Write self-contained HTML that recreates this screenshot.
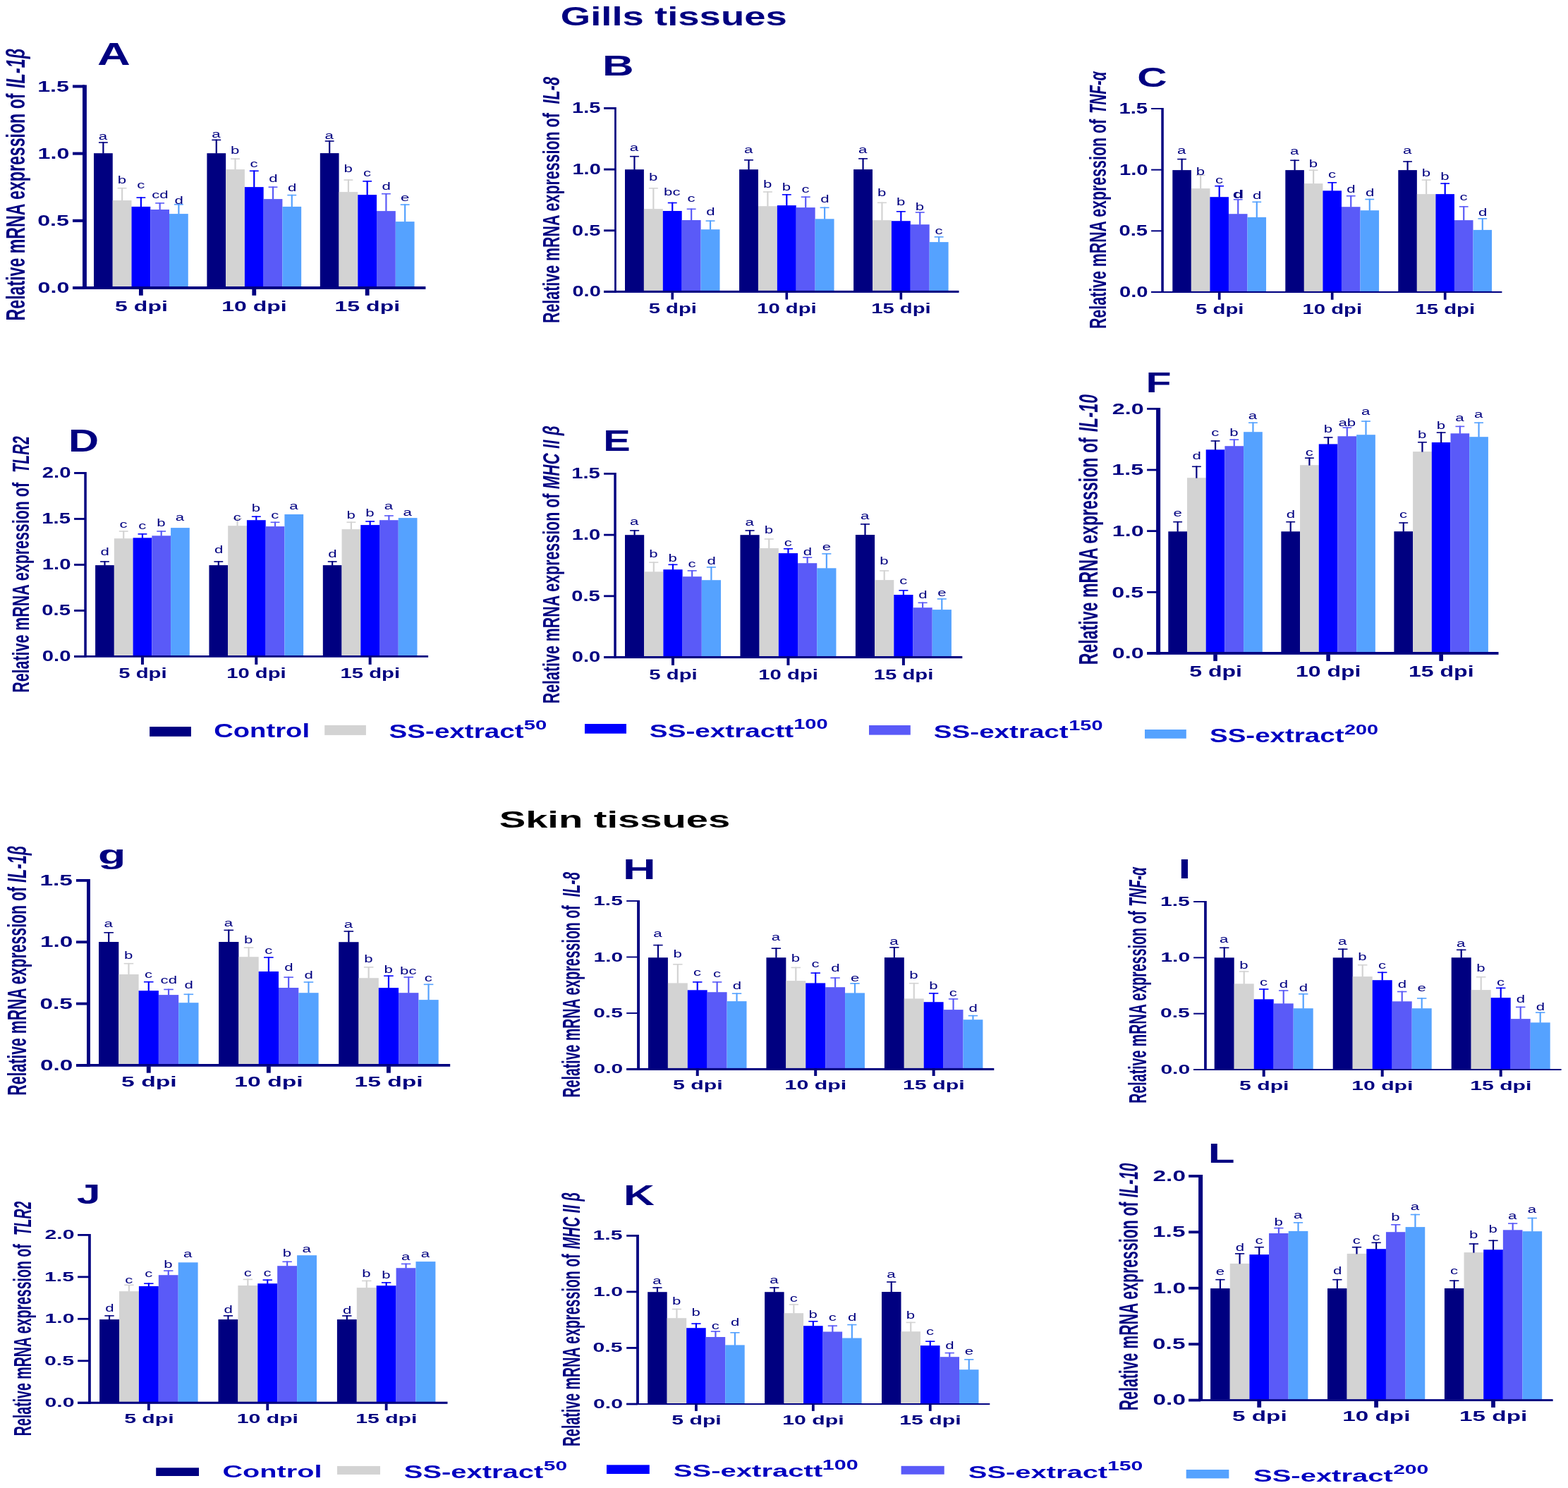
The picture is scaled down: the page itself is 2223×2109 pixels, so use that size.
<!DOCTYPE html>
<html><head><meta charset="utf-8"><title>Gills and skin tissues gene expression</title>
<style>html,body{margin:0;padding:0;background:#fff;}svg{display:block;}text{font-family:'Liberation Sans', Arial, sans-serif;}</style></head>
<body><svg xmlns="http://www.w3.org/2000/svg" width="2223" height="2109" viewBox="0 0 2223 2109">
<rect width="2223" height="2109" fill="#fff"/>
<g id="pA">
<rect x="133" y="217.2" width="26.75" height="189.3" fill="#000080"/>
<rect x="159.75" y="284" width="26.75" height="122.5" fill="#D3D3D3"/>
<rect x="186.5" y="292.9" width="26.75" height="113.6" fill="#0000FF"/>
<rect x="213.25" y="297" width="26.75" height="109.5" fill="#5A5AF8"/>
<rect x="240" y="303.1" width="26.75" height="103.4" fill="#55A2FF"/>
<rect x="293.4" y="217.2" width="26.75" height="189.3" fill="#000080"/>
<rect x="320.15" y="240.1" width="26.75" height="166.4" fill="#D3D3D3"/>
<rect x="346.9" y="265.1" width="26.75" height="141.4" fill="#0000FF"/>
<rect x="373.65" y="282.1" width="26.75" height="124.4" fill="#5A5AF8"/>
<rect x="400.4" y="292.9" width="26.75" height="113.6" fill="#55A2FF"/>
<rect x="453.8" y="217.1" width="26.75" height="189.4" fill="#000080"/>
<rect x="480.55" y="272.1" width="26.75" height="134.4" fill="#D3D3D3"/>
<rect x="507.3" y="276.1" width="26.75" height="130.4" fill="#0000FF"/>
<rect x="534.05" y="299.1" width="26.75" height="107.4" fill="#5A5AF8"/>
<rect x="560.8" y="314.1" width="26.75" height="92.4" fill="#55A2FF"/>
<rect x="145.28" y="201.2" width="2.2" height="16.5" fill="#000080"/>
<rect x="139.96" y="201.2" width="12.84" height="1.6" fill="#000080"/>
<rect x="172.03" y="265.9" width="2.2" height="18.6" fill="#D3D3D3"/>
<rect x="166.71" y="265.9" width="12.84" height="1.6" fill="#D3D3D3"/>
<rect x="198.78" y="279.3" width="2.2" height="14.1" fill="#0000FF"/>
<rect x="193.46" y="279.3" width="12.84" height="1.6" fill="#0000FF"/>
<rect x="225.53" y="287.1" width="2.2" height="10.4" fill="#5A5AF8"/>
<rect x="220.21" y="287.1" width="12.84" height="1.6" fill="#5A5AF8"/>
<rect x="252.28" y="289" width="2.2" height="14.6" fill="#55A2FF"/>
<rect x="246.96" y="289" width="12.84" height="1.6" fill="#55A2FF"/>
<rect x="305.67" y="197.6" width="2.2" height="20.1" fill="#000080"/>
<rect x="300.35" y="197.6" width="12.84" height="1.6" fill="#000080"/>
<rect x="332.42" y="224.4" width="2.2" height="16.2" fill="#D3D3D3"/>
<rect x="327.1" y="224.4" width="12.84" height="1.6" fill="#D3D3D3"/>
<rect x="359.17" y="241.5" width="2.2" height="24.1" fill="#0000FF"/>
<rect x="353.85" y="241.5" width="12.84" height="1.6" fill="#0000FF"/>
<rect x="385.92" y="264.4" width="2.2" height="18.2" fill="#5A5AF8"/>
<rect x="380.6" y="264.4" width="12.84" height="1.6" fill="#5A5AF8"/>
<rect x="412.67" y="275.8" width="2.2" height="17.6" fill="#55A2FF"/>
<rect x="407.35" y="275.8" width="12.84" height="1.6" fill="#55A2FF"/>
<rect x="466.07" y="199.2" width="2.2" height="18.4" fill="#000080"/>
<rect x="460.75" y="199.2" width="12.84" height="1.6" fill="#000080"/>
<rect x="492.82" y="254.3" width="2.2" height="18.3" fill="#D3D3D3"/>
<rect x="487.5" y="254.3" width="12.84" height="1.6" fill="#D3D3D3"/>
<rect x="519.57" y="256.1" width="2.2" height="20.5" fill="#0000FF"/>
<rect x="514.25" y="256.1" width="12.84" height="1.6" fill="#0000FF"/>
<rect x="546.32" y="273.9" width="2.2" height="25.7" fill="#5A5AF8"/>
<rect x="541" y="273.9" width="12.84" height="1.6" fill="#5A5AF8"/>
<rect x="573.07" y="289.3" width="2.2" height="25.3" fill="#55A2FF"/>
<rect x="567.75" y="289.3" width="12.84" height="1.6" fill="#55A2FF"/>
<rect x="117" y="120.4" width="5.9" height="289.6" fill="#000080"/>
<rect x="103" y="405.95" width="16.95" height="4.1" fill="#000080"/>
<rect x="103" y="310.77" width="16.95" height="4.1" fill="#000080"/>
<rect x="103" y="215.58" width="16.95" height="4.1" fill="#000080"/>
<rect x="103" y="120.4" width="16.95" height="4.1" fill="#000080"/>
<rect x="103" y="406" width="500.4" height="4" fill="#000080"/>
<rect x="196.97" y="409.5" width="5.8" height="9.3" fill="#000080"/>
<rect x="357.38" y="409.5" width="5.8" height="9.3" fill="#000080"/>
<rect x="517.77" y="409.5" width="5.8" height="9.3" fill="#000080"/>
<text transform="translate(53.61,415.37) scale(1.4118,1)" font-size="22.82" fill="#000080"><tspan style="font-weight:bold">0.0</tspan></text>
<text transform="translate(53.13,320.19) scale(1.4118,1)" font-size="22.82" fill="#000080"><tspan style="font-weight:bold">0.5</tspan></text>
<text transform="translate(53.61,225.01) scale(1.4118,1)" font-size="22.82" fill="#000080"><tspan style="font-weight:bold">1.0</tspan></text>
<text transform="translate(53.13,129.71) scale(1.4118,1)" font-size="22.82" fill="#000080"><tspan style="font-weight:bold">1.5</tspan></text>
<text transform="translate(163.11,440.68) scale(1.5205,1)" font-size="21.07" fill="#000080"><tspan style="font-weight:bold">5 dpi</tspan></text>
<text transform="translate(314.14,440.68) scale(1.5205,1)" font-size="21.07" fill="#000080"><tspan style="font-weight:bold">10 dpi</tspan></text>
<text transform="translate(474.54,440.68) scale(1.5205,1)" font-size="21.07" fill="#000080"><tspan style="font-weight:bold">15 dpi</tspan></text>
<text transform="translate(139.76,198) scale(1.5705,1)" font-size="14.15" fill="#000080"><tspan style="font-weight:normal">a</tspan></text>
<text transform="translate(166.68,259.5) scale(1.5705,1)" font-size="14.15" fill="#000080"><tspan style="font-weight:normal">b</tspan></text>
<text transform="translate(194.15,267.3) scale(1.5705,1)" font-size="14.15" fill="#000080"><tspan style="font-weight:normal">c</tspan></text>
<text transform="translate(215.18,280.8) scale(1.5705,1)" font-size="14.15" fill="#000080"><tspan style="font-weight:normal">cd</tspan></text>
<text transform="translate(247.49,288.7) scale(1.5705,1)" font-size="14.15" fill="#000080"><tspan style="font-weight:normal">d</tspan></text>
<text transform="translate(300.16,194.9) scale(1.5705,1)" font-size="14.15" fill="#000080"><tspan style="font-weight:normal">a</tspan></text>
<text transform="translate(327.08,217.6) scale(1.5705,1)" font-size="14.15" fill="#000080"><tspan style="font-weight:normal">b</tspan></text>
<text transform="translate(354.55,236.5) scale(1.5705,1)" font-size="14.15" fill="#000080"><tspan style="font-weight:normal">c</tspan></text>
<text transform="translate(381.14,258.4) scale(1.5705,1)" font-size="14.15" fill="#000080"><tspan style="font-weight:normal">d</tspan></text>
<text transform="translate(407.89,271.4) scale(1.5705,1)" font-size="14.15" fill="#000080"><tspan style="font-weight:normal">d</tspan></text>
<text transform="translate(460.56,196.6) scale(1.5705,1)" font-size="14.15" fill="#000080"><tspan style="font-weight:normal">a</tspan></text>
<text transform="translate(487.48,243.5) scale(1.5705,1)" font-size="14.15" fill="#000080"><tspan style="font-weight:normal">b</tspan></text>
<text transform="translate(514.95,250) scale(1.5705,1)" font-size="14.15" fill="#000080"><tspan style="font-weight:normal">c</tspan></text>
<text transform="translate(541.54,269) scale(1.5705,1)" font-size="14.15" fill="#000080"><tspan style="font-weight:normal">d</tspan></text>
<text transform="translate(568.06,285.2) scale(1.5705,1)" font-size="14.15" fill="#000080"><tspan style="font-weight:normal">e</tspan></text>
<text transform="translate(137.98,92) scale(1.4751,1)" font-size="43.91" fill="#000080"><tspan style="font-weight:bold;">A</tspan></text>
<text transform="translate(34.5,454.4) rotate(-90) scale(0.6389,1)" font-size="36.23" fill="#000080" style="font-weight:bold;white-space:pre">Relative mRNA expression of</text>
<text transform="translate(34.5,125.07) rotate(-90) scale(0.6507,1)" font-size="36.23" fill="#000080" style="font-weight:bold;font-style:italic;white-space:pre">IL-1β</text>
</g>
<g id="pB">
<rect x="886" y="240.2" width="26.9" height="172.2" fill="#000080"/>
<rect x="912.9" y="296.1" width="26.9" height="116.3" fill="#D3D3D3"/>
<rect x="939.8" y="299" width="26.9" height="113.4" fill="#0000FF"/>
<rect x="966.7" y="312" width="26.9" height="100.4" fill="#5A5AF8"/>
<rect x="993.6" y="325.2" width="26.9" height="87.2" fill="#55A2FF"/>
<rect x="1048.05" y="240.2" width="26.9" height="172.2" fill="#000080"/>
<rect x="1074.95" y="292.2" width="26.9" height="120.2" fill="#D3D3D3"/>
<rect x="1101.85" y="291.1" width="26.9" height="121.3" fill="#0000FF"/>
<rect x="1128.75" y="294.1" width="26.9" height="118.3" fill="#5A5AF8"/>
<rect x="1155.65" y="310.3" width="26.9" height="102.1" fill="#55A2FF"/>
<rect x="1210.1" y="240.1" width="26.9" height="172.3" fill="#000080"/>
<rect x="1237" y="312.1" width="26.9" height="100.3" fill="#D3D3D3"/>
<rect x="1263.9" y="313.2" width="26.9" height="99.2" fill="#0000FF"/>
<rect x="1290.8" y="318.2" width="26.9" height="94.2" fill="#5A5AF8"/>
<rect x="1317.7" y="343.1" width="26.9" height="69.3" fill="#55A2FF"/>
<rect x="898.35" y="220.9" width="2.2" height="19.8" fill="#000080"/>
<rect x="892.99" y="220.9" width="12.91" height="1.6" fill="#000080"/>
<rect x="925.25" y="266" width="2.2" height="30.6" fill="#D3D3D3"/>
<rect x="919.89" y="266" width="12.91" height="1.6" fill="#D3D3D3"/>
<rect x="952.15" y="286.7" width="2.2" height="12.8" fill="#0000FF"/>
<rect x="946.79" y="286.7" width="12.91" height="1.6" fill="#0000FF"/>
<rect x="979.05" y="295.5" width="2.2" height="17" fill="#5A5AF8"/>
<rect x="973.69" y="295.5" width="12.91" height="1.6" fill="#5A5AF8"/>
<rect x="1005.95" y="312.3" width="2.2" height="13.4" fill="#55A2FF"/>
<rect x="1000.59" y="312.3" width="12.91" height="1.6" fill="#55A2FF"/>
<rect x="1060.4" y="226" width="2.2" height="14.7" fill="#000080"/>
<rect x="1055.04" y="226" width="12.91" height="1.6" fill="#000080"/>
<rect x="1087.3" y="271.2" width="2.2" height="21.5" fill="#D3D3D3"/>
<rect x="1081.94" y="271.2" width="12.91" height="1.6" fill="#D3D3D3"/>
<rect x="1114.2" y="275.1" width="2.2" height="16.5" fill="#0000FF"/>
<rect x="1108.84" y="275.1" width="12.91" height="1.6" fill="#0000FF"/>
<rect x="1141.1" y="278.4" width="2.2" height="16.2" fill="#5A5AF8"/>
<rect x="1135.74" y="278.4" width="12.91" height="1.6" fill="#5A5AF8"/>
<rect x="1168" y="293.5" width="2.2" height="17.3" fill="#55A2FF"/>
<rect x="1162.64" y="293.5" width="12.91" height="1.6" fill="#55A2FF"/>
<rect x="1222.45" y="224.1" width="2.2" height="16.5" fill="#000080"/>
<rect x="1217.09" y="224.1" width="12.91" height="1.6" fill="#000080"/>
<rect x="1249.35" y="286.5" width="2.2" height="26.1" fill="#D3D3D3"/>
<rect x="1243.99" y="286.5" width="12.91" height="1.6" fill="#D3D3D3"/>
<rect x="1276.25" y="299" width="2.2" height="14.7" fill="#0000FF"/>
<rect x="1270.89" y="299" width="12.91" height="1.6" fill="#0000FF"/>
<rect x="1303.15" y="300.2" width="2.2" height="18.5" fill="#5A5AF8"/>
<rect x="1297.79" y="300.2" width="12.91" height="1.6" fill="#5A5AF8"/>
<rect x="1330.05" y="335" width="2.2" height="8.6" fill="#55A2FF"/>
<rect x="1324.69" y="335" width="12.91" height="1.6" fill="#55A2FF"/>
<rect x="871.1" y="152" width="2.7" height="262.9" fill="#000080"/>
<rect x="856.1" y="411.95" width="16.35" height="2.9" fill="#000080"/>
<rect x="856.1" y="325.3" width="16.35" height="2.9" fill="#000080"/>
<rect x="856.1" y="238.65" width="16.35" height="2.9" fill="#000080"/>
<rect x="856.1" y="152" width="16.35" height="2.9" fill="#000080"/>
<rect x="856.1" y="411.9" width="503.4" height="3" fill="#000080"/>
<rect x="951.45" y="414.4" width="3.6" height="10.1" fill="#000080"/>
<rect x="1113.5" y="414.4" width="3.6" height="10.1" fill="#000080"/>
<rect x="1275.55" y="414.4" width="3.6" height="10.1" fill="#000080"/>
<text transform="translate(811.44,420.33) scale(1.3461,1)" font-size="21.55" fill="#000080"><tspan style="font-weight:bold">0.0</tspan></text>
<text transform="translate(811,333.68) scale(1.3461,1)" font-size="21.55" fill="#000080"><tspan style="font-weight:bold">0.5</tspan></text>
<text transform="translate(811.44,247.03) scale(1.3461,1)" font-size="21.55" fill="#000080"><tspan style="font-weight:bold">1.0</tspan></text>
<text transform="translate(811,160.28) scale(1.3461,1)" font-size="21.55" fill="#000080"><tspan style="font-weight:bold">1.5</tspan></text>
<text transform="translate(919.67,444.49) scale(1.4250,1)" font-size="20.53" fill="#000080"><tspan style="font-weight:bold">5 dpi</tspan></text>
<text transform="translate(1073.16,444.49) scale(1.4250,1)" font-size="20.53" fill="#000080"><tspan style="font-weight:bold">10 dpi</tspan></text>
<text transform="translate(1235.21,444.49) scale(1.4250,1)" font-size="20.53" fill="#000080"><tspan style="font-weight:bold">15 dpi</tspan></text>
<text transform="translate(892.84,214.1) scale(1.5705,1)" font-size="14.15" fill="#000080"><tspan style="font-weight:normal">a</tspan></text>
<text transform="translate(919.91,256.2) scale(1.5705,1)" font-size="14.15" fill="#000080"><tspan style="font-weight:normal">b</tspan></text>
<text transform="translate(941.08,277.3) scale(1.5705,1)" font-size="14.15" fill="#000080"><tspan style="font-weight:normal">bc</tspan></text>
<text transform="translate(974.43,286.4) scale(1.5705,1)" font-size="14.15" fill="#000080"><tspan style="font-weight:normal">c</tspan></text>
<text transform="translate(1001.16,304.8) scale(1.5705,1)" font-size="14.15" fill="#000080"><tspan style="font-weight:normal">d</tspan></text>
<text transform="translate(1054.89,217) scale(1.5705,1)" font-size="14.15" fill="#000080"><tspan style="font-weight:normal">a</tspan></text>
<text transform="translate(1081.96,265.6) scale(1.5705,1)" font-size="14.15" fill="#000080"><tspan style="font-weight:normal">b</tspan></text>
<text transform="translate(1108.86,270.3) scale(1.5705,1)" font-size="14.15" fill="#000080"><tspan style="font-weight:normal">b</tspan></text>
<text transform="translate(1136.48,272.9) scale(1.5705,1)" font-size="14.15" fill="#000080"><tspan style="font-weight:normal">c</tspan></text>
<text transform="translate(1163.21,287) scale(1.5705,1)" font-size="14.15" fill="#000080"><tspan style="font-weight:normal">d</tspan></text>
<text transform="translate(1216.94,216.9) scale(1.5705,1)" font-size="14.15" fill="#000080"><tspan style="font-weight:normal">a</tspan></text>
<text transform="translate(1244.01,278.4) scale(1.5705,1)" font-size="14.15" fill="#000080"><tspan style="font-weight:normal">b</tspan></text>
<text transform="translate(1270.91,291.3) scale(1.5705,1)" font-size="14.15" fill="#000080"><tspan style="font-weight:normal">b</tspan></text>
<text transform="translate(1297.81,298.2) scale(1.5705,1)" font-size="14.15" fill="#000080"><tspan style="font-weight:normal">b</tspan></text>
<text transform="translate(1325.43,331.8) scale(1.5705,1)" font-size="14.15" fill="#000080"><tspan style="font-weight:normal">c</tspan></text>
<text transform="translate(853.98,106.7) scale(1.5176,1)" font-size="40.72" fill="#000080"><tspan style="font-weight:bold;">B</tspan></text>
<text transform="translate(793,457.99) rotate(-90) scale(0.6315,1)" font-size="33.91" fill="#000080" style="font-weight:bold;white-space:pre">Relative mRNA expression of</text>
<text transform="translate(793,147.54) rotate(-90) scale(0.6418,1)" font-size="33.91" fill="#000080" style="font-weight:bold;font-style:italic;white-space:pre">IL-8</text>
</g>
<g id="pC">
<rect x="1662.3" y="241.1" width="26.55" height="172.3" fill="#000080"/>
<rect x="1688.85" y="267.1" width="26.55" height="146.3" fill="#D3D3D3"/>
<rect x="1715.4" y="279.2" width="26.55" height="134.2" fill="#0000FF"/>
<rect x="1741.95" y="303.2" width="26.55" height="110.2" fill="#5A5AF8"/>
<rect x="1768.5" y="307.9" width="26.55" height="105.5" fill="#55A2FF"/>
<rect x="1822.3" y="241.1" width="26.55" height="172.3" fill="#000080"/>
<rect x="1848.85" y="260.1" width="26.55" height="153.3" fill="#D3D3D3"/>
<rect x="1875.4" y="270.3" width="26.55" height="143.1" fill="#0000FF"/>
<rect x="1901.95" y="293.2" width="26.55" height="120.2" fill="#5A5AF8"/>
<rect x="1928.5" y="298.2" width="26.55" height="115.2" fill="#55A2FF"/>
<rect x="1982.3" y="241.1" width="26.55" height="172.3" fill="#000080"/>
<rect x="2008.85" y="275.1" width="26.55" height="138.3" fill="#D3D3D3"/>
<rect x="2035.4" y="275.1" width="26.55" height="138.3" fill="#0000FF"/>
<rect x="2061.95" y="312.1" width="26.55" height="101.3" fill="#5A5AF8"/>
<rect x="2088.5" y="325.9" width="26.55" height="87.5" fill="#55A2FF"/>
<rect x="1674.48" y="224.8" width="2.2" height="16.8" fill="#000080"/>
<rect x="1669.2" y="224.8" width="12.74" height="1.6" fill="#000080"/>
<rect x="1701.03" y="247.5" width="2.2" height="20.1" fill="#D3D3D3"/>
<rect x="1695.75" y="247.5" width="12.74" height="1.6" fill="#D3D3D3"/>
<rect x="1727.58" y="262.9" width="2.2" height="16.8" fill="#0000FF"/>
<rect x="1722.3" y="262.9" width="12.74" height="1.6" fill="#0000FF"/>
<rect x="1754.13" y="282" width="2.2" height="21.7" fill="#5A5AF8"/>
<rect x="1748.85" y="282" width="12.74" height="1.6" fill="#5A5AF8"/>
<rect x="1780.68" y="285.5" width="2.2" height="22.9" fill="#55A2FF"/>
<rect x="1775.4" y="285.5" width="12.74" height="1.6" fill="#55A2FF"/>
<rect x="1834.48" y="226.5" width="2.2" height="15.1" fill="#000080"/>
<rect x="1829.2" y="226.5" width="12.74" height="1.6" fill="#000080"/>
<rect x="1861.03" y="240.5" width="2.2" height="20.1" fill="#D3D3D3"/>
<rect x="1855.75" y="240.5" width="12.74" height="1.6" fill="#D3D3D3"/>
<rect x="1887.58" y="258" width="2.2" height="12.8" fill="#0000FF"/>
<rect x="1882.3" y="258" width="12.74" height="1.6" fill="#0000FF"/>
<rect x="1914.13" y="276.9" width="2.2" height="16.8" fill="#5A5AF8"/>
<rect x="1908.85" y="276.9" width="12.74" height="1.6" fill="#5A5AF8"/>
<rect x="1940.68" y="281.7" width="2.2" height="17" fill="#55A2FF"/>
<rect x="1935.4" y="281.7" width="12.74" height="1.6" fill="#55A2FF"/>
<rect x="1994.48" y="228.2" width="2.2" height="13.4" fill="#000080"/>
<rect x="1989.2" y="228.2" width="12.74" height="1.6" fill="#000080"/>
<rect x="2021.03" y="254.3" width="2.2" height="21.3" fill="#D3D3D3"/>
<rect x="2015.75" y="254.3" width="12.74" height="1.6" fill="#D3D3D3"/>
<rect x="2047.57" y="259.3" width="2.2" height="16.3" fill="#0000FF"/>
<rect x="2042.3" y="259.3" width="12.74" height="1.6" fill="#0000FF"/>
<rect x="2074.12" y="292.1" width="2.2" height="20.5" fill="#5A5AF8"/>
<rect x="2068.85" y="292.1" width="12.74" height="1.6" fill="#5A5AF8"/>
<rect x="2100.68" y="309.1" width="2.2" height="17.3" fill="#55A2FF"/>
<rect x="2095.4" y="309.1" width="12.74" height="1.6" fill="#55A2FF"/>
<rect x="1646.3" y="153" width="3.5" height="262" fill="#000080"/>
<rect x="1632.1" y="412.95" width="15.95" height="2" fill="#000080"/>
<rect x="1632.1" y="326.3" width="15.95" height="2" fill="#000080"/>
<rect x="1632.1" y="239.65" width="15.95" height="2" fill="#000080"/>
<rect x="1632.1" y="153" width="15.95" height="2" fill="#000080"/>
<rect x="1632.1" y="412.9" width="497.3" height="2.1" fill="#000080"/>
<rect x="1726.83" y="414.5" width="3.7" height="10.3" fill="#000080"/>
<rect x="1886.83" y="414.5" width="3.7" height="10.3" fill="#000080"/>
<rect x="2046.83" y="414.5" width="3.7" height="10.3" fill="#000080"/>
<text transform="translate(1586.93,420.88) scale(1.3532,1)" font-size="21.55" fill="#000080"><tspan style="font-weight:bold">0.0</tspan></text>
<text transform="translate(1586.5,334.23) scale(1.3532,1)" font-size="21.55" fill="#000080"><tspan style="font-weight:bold">0.5</tspan></text>
<text transform="translate(1586.93,247.58) scale(1.3532,1)" font-size="21.55" fill="#000080"><tspan style="font-weight:bold">1.0</tspan></text>
<text transform="translate(1586.5,160.83) scale(1.3532,1)" font-size="21.55" fill="#000080"><tspan style="font-weight:bold">1.5</tspan></text>
<text transform="translate(1694.99,444.86) scale(1.4520,1)" font-size="20.21" fill="#000080"><tspan style="font-weight:bold">5 dpi</tspan></text>
<text transform="translate(1846.41,444.86) scale(1.4520,1)" font-size="20.21" fill="#000080"><tspan style="font-weight:bold">10 dpi</tspan></text>
<text transform="translate(2006.41,444.86) scale(1.4520,1)" font-size="20.21" fill="#000080"><tspan style="font-weight:bold">15 dpi</tspan></text>
<text transform="translate(1668.96,217.7) scale(1.5705,1)" font-size="14.15" fill="#000080"><tspan style="font-weight:normal">a</tspan></text>
<text transform="translate(1695.68,247.5) scale(1.5705,1)" font-size="14.15" fill="#000080"><tspan style="font-weight:normal">b</tspan></text>
<text transform="translate(1722.95,260.1) scale(1.5705,1)" font-size="14.15" fill="#000080"><tspan style="font-weight:normal">c</tspan></text>
<text transform="translate(1747.82,281.2) scale(1.4920,1)" font-size="16.98" fill="#000080"><tspan style="font-weight:bold">d</tspan></text>
<text transform="translate(1775.89,281.6) scale(1.5705,1)" font-size="14.15" fill="#000080"><tspan style="font-weight:normal">d</tspan></text>
<text transform="translate(1828.96,218.8) scale(1.5705,1)" font-size="14.15" fill="#000080"><tspan style="font-weight:normal">a</tspan></text>
<text transform="translate(1855.68,237) scale(1.5705,1)" font-size="14.15" fill="#000080"><tspan style="font-weight:normal">b</tspan></text>
<text transform="translate(1882.95,251.8) scale(1.5705,1)" font-size="14.15" fill="#000080"><tspan style="font-weight:normal">c</tspan></text>
<text transform="translate(1909.34,272.9) scale(1.5705,1)" font-size="14.15" fill="#000080"><tspan style="font-weight:normal">d</tspan></text>
<text transform="translate(1935.89,278.1) scale(1.5705,1)" font-size="14.15" fill="#000080"><tspan style="font-weight:normal">d</tspan></text>
<text transform="translate(1988.96,217.9) scale(1.5705,1)" font-size="14.15" fill="#000080"><tspan style="font-weight:normal">a</tspan></text>
<text transform="translate(2015.68,249.6) scale(1.5705,1)" font-size="14.15" fill="#000080"><tspan style="font-weight:normal">b</tspan></text>
<text transform="translate(2042.23,254.9) scale(1.5705,1)" font-size="14.15" fill="#000080"><tspan style="font-weight:normal">b</tspan></text>
<text transform="translate(2069.5,283.6) scale(1.5705,1)" font-size="14.15" fill="#000080"><tspan style="font-weight:normal">c</tspan></text>
<text transform="translate(2095.89,306.3) scale(1.5705,1)" font-size="14.15" fill="#000080"><tspan style="font-weight:normal">d</tspan></text>
<text transform="translate(1612.15,122.62) scale(1.5400,1)" font-size="38.17" fill="#000080"><tspan style="font-weight:bold;">C</tspan></text>
<text transform="translate(1568.1,466.09) rotate(-90) scale(0.6468,1)" font-size="33.04" fill="#000080" style="font-weight:bold;white-space:pre">Relative mRNA expression of</text>
<text transform="translate(1568.1,160.94) rotate(-90) scale(0.6211,1)" font-size="33.04" fill="#000080" style="font-weight:bold;font-style:italic;white-space:pre">TNF-α</text>
</g>
<g id="pD">
<rect x="135.1" y="801.1" width="26.74" height="128.4" fill="#000080"/>
<rect x="161.84" y="763.2" width="26.74" height="166.3" fill="#D3D3D3"/>
<rect x="188.58" y="762.3" width="26.74" height="167.2" fill="#0000FF"/>
<rect x="215.32" y="759.3" width="26.74" height="170.2" fill="#5A5AF8"/>
<rect x="242.06" y="748.1" width="26.74" height="181.4" fill="#55A2FF"/>
<rect x="296.45" y="801.1" width="26.74" height="128.4" fill="#000080"/>
<rect x="323.19" y="745.2" width="26.74" height="184.3" fill="#D3D3D3"/>
<rect x="349.93" y="737.2" width="26.74" height="192.3" fill="#0000FF"/>
<rect x="376.67" y="746.1" width="26.74" height="183.4" fill="#5A5AF8"/>
<rect x="403.41" y="729" width="26.74" height="200.5" fill="#55A2FF"/>
<rect x="457.8" y="801.1" width="26.74" height="128.4" fill="#000080"/>
<rect x="484.54" y="750.1" width="26.74" height="179.4" fill="#D3D3D3"/>
<rect x="511.28" y="744.1" width="26.74" height="185.4" fill="#0000FF"/>
<rect x="538.02" y="737.2" width="26.74" height="192.3" fill="#5A5AF8"/>
<rect x="564.76" y="734.1" width="26.74" height="195.4" fill="#55A2FF"/>
<rect x="147.37" y="795.2" width="2.2" height="6.4" fill="#000080"/>
<rect x="142.05" y="795.2" width="12.84" height="1.6" fill="#000080"/>
<rect x="174.11" y="752.2" width="2.2" height="11.5" fill="#D3D3D3"/>
<rect x="168.79" y="752.2" width="12.84" height="1.6" fill="#D3D3D3"/>
<rect x="200.85" y="756.1" width="2.2" height="6.7" fill="#0000FF"/>
<rect x="195.53" y="756.1" width="12.84" height="1.6" fill="#0000FF"/>
<rect x="227.59" y="752.2" width="2.2" height="7.6" fill="#5A5AF8"/>
<rect x="222.27" y="752.2" width="12.84" height="1.6" fill="#5A5AF8"/>
<rect x="308.72" y="795.2" width="2.2" height="6.4" fill="#000080"/>
<rect x="303.4" y="795.2" width="12.84" height="1.6" fill="#000080"/>
<rect x="335.46" y="734" width="2.2" height="11.7" fill="#D3D3D3"/>
<rect x="330.14" y="734" width="12.84" height="1.6" fill="#D3D3D3"/>
<rect x="362.2" y="731.4" width="2.2" height="6.3" fill="#0000FF"/>
<rect x="356.88" y="731.4" width="12.84" height="1.6" fill="#0000FF"/>
<rect x="388.94" y="739.5" width="2.2" height="7.1" fill="#5A5AF8"/>
<rect x="383.62" y="739.5" width="12.84" height="1.6" fill="#5A5AF8"/>
<rect x="470.07" y="795.2" width="2.2" height="6.4" fill="#000080"/>
<rect x="464.75" y="795.2" width="12.84" height="1.6" fill="#000080"/>
<rect x="496.81" y="739.4" width="2.2" height="11.2" fill="#D3D3D3"/>
<rect x="491.49" y="739.4" width="12.84" height="1.6" fill="#D3D3D3"/>
<rect x="523.55" y="738.2" width="2.2" height="6.4" fill="#0000FF"/>
<rect x="518.23" y="738.2" width="12.84" height="1.6" fill="#0000FF"/>
<rect x="550.29" y="730.2" width="2.2" height="7.5" fill="#5A5AF8"/>
<rect x="544.97" y="730.2" width="12.84" height="1.6" fill="#5A5AF8"/>
<rect x="119.3" y="669" width="3.5" height="262.75" fill="#000080"/>
<rect x="105.1" y="928.95" width="15.95" height="2.9" fill="#000080"/>
<rect x="105.1" y="863.96" width="15.95" height="2.9" fill="#000080"/>
<rect x="105.1" y="798.97" width="15.95" height="2.9" fill="#000080"/>
<rect x="105.1" y="733.99" width="15.95" height="2.9" fill="#000080"/>
<rect x="105.1" y="669" width="15.95" height="2.9" fill="#000080"/>
<rect x="105.1" y="929" width="502" height="2.75" fill="#000080"/>
<rect x="199.95" y="931.25" width="4" height="10.65" fill="#000080"/>
<rect x="361.3" y="931.25" width="4" height="10.65" fill="#000080"/>
<rect x="522.65" y="931.25" width="4" height="10.65" fill="#000080"/>
<text transform="translate(59.73,937.24) scale(1.3783,1)" font-size="21.27" fill="#000080"><tspan style="font-weight:bold">0.0</tspan></text>
<text transform="translate(59.29,872.25) scale(1.3783,1)" font-size="21.27" fill="#000080"><tspan style="font-weight:bold">0.5</tspan></text>
<text transform="translate(59.73,807.26) scale(1.3783,1)" font-size="21.27" fill="#000080"><tspan style="font-weight:bold">1.0</tspan></text>
<text transform="translate(59.29,742.17) scale(1.3783,1)" font-size="21.27" fill="#000080"><tspan style="font-weight:bold">1.5</tspan></text>
<text transform="translate(59.73,677.29) scale(1.3783,1)" font-size="21.27" fill="#000080"><tspan style="font-weight:bold">2.0</tspan></text>
<text transform="translate(168.37,961.4) scale(1.4631,1)" font-size="20.00" fill="#000080"><tspan style="font-weight:bold">5 dpi</tspan></text>
<text transform="translate(321.16,961.4) scale(1.4631,1)" font-size="20.00" fill="#000080"><tspan style="font-weight:bold">10 dpi</tspan></text>
<text transform="translate(482.51,961.4) scale(1.4631,1)" font-size="20.00" fill="#000080"><tspan style="font-weight:bold">15 dpi</tspan></text>
<text transform="translate(142.58,787.3) scale(1.5705,1)" font-size="14.15" fill="#000080"><tspan style="font-weight:normal">d</tspan></text>
<text transform="translate(169.49,747.8) scale(1.5705,1)" font-size="14.15" fill="#000080"><tspan style="font-weight:normal">c</tspan></text>
<text transform="translate(196.23,749.9) scale(1.5705,1)" font-size="14.15" fill="#000080"><tspan style="font-weight:normal">c</tspan></text>
<text transform="translate(222.25,745.8) scale(1.5705,1)" font-size="14.15" fill="#000080"><tspan style="font-weight:normal">b</tspan></text>
<text transform="translate(248.82,737.6) scale(1.5705,1)" font-size="14.15" fill="#000080"><tspan style="font-weight:normal">a</tspan></text>
<text transform="translate(303.93,784.2) scale(1.5705,1)" font-size="14.15" fill="#000080"><tspan style="font-weight:normal">d</tspan></text>
<text transform="translate(330.84,737.6) scale(1.5705,1)" font-size="14.15" fill="#000080"><tspan style="font-weight:normal">c</tspan></text>
<text transform="translate(356.86,725.4) scale(1.5705,1)" font-size="14.15" fill="#000080"><tspan style="font-weight:normal">b</tspan></text>
<text transform="translate(384.32,734.8) scale(1.5705,1)" font-size="14.15" fill="#000080"><tspan style="font-weight:normal">c</tspan></text>
<text transform="translate(410.17,722) scale(1.5705,1)" font-size="14.15" fill="#000080"><tspan style="font-weight:normal">a</tspan></text>
<text transform="translate(465.28,789.5) scale(1.5705,1)" font-size="14.15" fill="#000080"><tspan style="font-weight:normal">d</tspan></text>
<text transform="translate(491.47,735.3) scale(1.5705,1)" font-size="14.15" fill="#000080"><tspan style="font-weight:normal">b</tspan></text>
<text transform="translate(518.21,731.9) scale(1.5705,1)" font-size="14.15" fill="#000080"><tspan style="font-weight:normal">b</tspan></text>
<text transform="translate(544.78,721.7) scale(1.5705,1)" font-size="14.15" fill="#000080"><tspan style="font-weight:normal">a</tspan></text>
<text transform="translate(571.52,730.6) scale(1.5705,1)" font-size="14.15" fill="#000080"><tspan style="font-weight:normal">a</tspan></text>
<text transform="translate(97.12,639.8) scale(1.3725,1)" font-size="43.48" fill="#000080"><tspan style="font-weight:bold;">D</tspan></text>
<text transform="translate(40.9,981.79) rotate(-90) scale(0.6483,1)" font-size="33.04" fill="#000080" style="font-weight:bold;white-space:pre">Relative mRNA expression of</text>
<text transform="translate(40.9,670.05) rotate(-90) scale(0.6265,1)" font-size="33.04" fill="#000080" style="font-weight:bold;font-style:italic;white-space:pre">TLR2</text>
</g>
<g id="pE">
<rect x="886" y="758.2" width="27.2" height="172.3" fill="#000080"/>
<rect x="913.2" y="810.3" width="27.2" height="120.2" fill="#D3D3D3"/>
<rect x="940.4" y="807.2" width="27.2" height="123.3" fill="#0000FF"/>
<rect x="967.6" y="817.2" width="27.2" height="113.3" fill="#5A5AF8"/>
<rect x="994.8" y="822.2" width="27.2" height="108.3" fill="#55A2FF"/>
<rect x="1049.45" y="758.2" width="27.2" height="172.3" fill="#000080"/>
<rect x="1076.65" y="777" width="27.2" height="153.5" fill="#D3D3D3"/>
<rect x="1103.85" y="784.1" width="27.2" height="146.4" fill="#0000FF"/>
<rect x="1131.05" y="798.2" width="27.2" height="132.3" fill="#5A5AF8"/>
<rect x="1158.25" y="805.3" width="27.2" height="125.2" fill="#55A2FF"/>
<rect x="1212.9" y="758" width="27.2" height="172.5" fill="#000080"/>
<rect x="1240.1" y="822.1" width="27.2" height="108.4" fill="#D3D3D3"/>
<rect x="1267.3" y="843" width="27.2" height="87.5" fill="#0000FF"/>
<rect x="1294.5" y="861.2" width="27.2" height="69.3" fill="#5A5AF8"/>
<rect x="1321.7" y="864.1" width="27.2" height="66.4" fill="#55A2FF"/>
<rect x="898.5" y="751.2" width="2.2" height="7.5" fill="#000080"/>
<rect x="893.07" y="751.2" width="13.06" height="1.6" fill="#000080"/>
<rect x="925.7" y="796.3" width="2.2" height="14.5" fill="#D3D3D3"/>
<rect x="920.27" y="796.3" width="13.06" height="1.6" fill="#D3D3D3"/>
<rect x="952.9" y="799.5" width="2.2" height="8.2" fill="#0000FF"/>
<rect x="947.47" y="799.5" width="13.06" height="1.6" fill="#0000FF"/>
<rect x="980.1" y="808.1" width="2.2" height="9.6" fill="#5A5AF8"/>
<rect x="974.67" y="808.1" width="13.06" height="1.6" fill="#5A5AF8"/>
<rect x="1007.3" y="803.1" width="2.2" height="19.6" fill="#55A2FF"/>
<rect x="1001.87" y="803.1" width="13.06" height="1.6" fill="#55A2FF"/>
<rect x="1061.95" y="751.2" width="2.2" height="7.5" fill="#000080"/>
<rect x="1056.52" y="751.2" width="13.06" height="1.6" fill="#000080"/>
<rect x="1089.15" y="763.2" width="2.2" height="14.3" fill="#D3D3D3"/>
<rect x="1083.72" y="763.2" width="13.06" height="1.6" fill="#D3D3D3"/>
<rect x="1116.35" y="777" width="2.2" height="7.6" fill="#0000FF"/>
<rect x="1110.92" y="777" width="13.06" height="1.6" fill="#0000FF"/>
<rect x="1143.55" y="789.3" width="2.2" height="9.4" fill="#5A5AF8"/>
<rect x="1138.12" y="789.3" width="13.06" height="1.6" fill="#5A5AF8"/>
<rect x="1170.75" y="784.1" width="2.2" height="21.7" fill="#55A2FF"/>
<rect x="1165.32" y="784.1" width="13.06" height="1.6" fill="#55A2FF"/>
<rect x="1225.4" y="742.1" width="2.2" height="16.4" fill="#000080"/>
<rect x="1219.97" y="742.1" width="13.06" height="1.6" fill="#000080"/>
<rect x="1252.6" y="808.2" width="2.2" height="14.4" fill="#D3D3D3"/>
<rect x="1247.17" y="808.2" width="13.06" height="1.6" fill="#D3D3D3"/>
<rect x="1279.8" y="836" width="2.2" height="7.5" fill="#0000FF"/>
<rect x="1274.37" y="836" width="13.06" height="1.6" fill="#0000FF"/>
<rect x="1307" y="853.5" width="2.2" height="8.2" fill="#5A5AF8"/>
<rect x="1301.57" y="853.5" width="13.06" height="1.6" fill="#5A5AF8"/>
<rect x="1334.2" y="848.1" width="2.2" height="16.5" fill="#55A2FF"/>
<rect x="1328.77" y="848.1" width="13.06" height="1.6" fill="#55A2FF"/>
<rect x="870.3" y="670" width="3.5" height="263.1" fill="#000080"/>
<rect x="856.1" y="930.15" width="15.95" height="2.8" fill="#000080"/>
<rect x="856.1" y="843.43" width="15.95" height="2.8" fill="#000080"/>
<rect x="856.1" y="756.72" width="15.95" height="2.8" fill="#000080"/>
<rect x="856.1" y="670" width="15.95" height="2.8" fill="#000080"/>
<rect x="856.1" y="930" width="508.2" height="3.1" fill="#000080"/>
<rect x="952" y="932.6" width="4" height="10.3" fill="#000080"/>
<rect x="1115.45" y="932.6" width="4" height="10.3" fill="#000080"/>
<rect x="1278.9" y="932.6" width="4" height="10.3" fill="#000080"/>
<text transform="translate(810.73,938.41) scale(1.3666,1)" font-size="21.34" fill="#000080"><tspan style="font-weight:bold">0.0</tspan></text>
<text transform="translate(810.3,851.69) scale(1.3666,1)" font-size="21.34" fill="#000080"><tspan style="font-weight:bold">0.5</tspan></text>
<text transform="translate(810.73,764.98) scale(1.3666,1)" font-size="21.34" fill="#000080"><tspan style="font-weight:bold">1.0</tspan></text>
<text transform="translate(810.3,678.15) scale(1.3666,1)" font-size="21.34" fill="#000080"><tspan style="font-weight:bold">1.5</tspan></text>
<text transform="translate(920.37,962.68) scale(1.4575,1)" font-size="20.11" fill="#000080"><tspan style="font-weight:bold">5 dpi</tspan></text>
<text transform="translate(1075.25,962.68) scale(1.4575,1)" font-size="20.11" fill="#000080"><tspan style="font-weight:bold">10 dpi</tspan></text>
<text transform="translate(1238.7,962.68) scale(1.4575,1)" font-size="20.11" fill="#000080"><tspan style="font-weight:bold">15 dpi</tspan></text>
<text transform="translate(892.99,743.8) scale(1.5705,1)" font-size="14.15" fill="#000080"><tspan style="font-weight:normal">a</tspan></text>
<text transform="translate(920.36,790.1) scale(1.5705,1)" font-size="14.15" fill="#000080"><tspan style="font-weight:normal">b</tspan></text>
<text transform="translate(947.56,795.5) scale(1.5705,1)" font-size="14.15" fill="#000080"><tspan style="font-weight:normal">b</tspan></text>
<text transform="translate(975.48,803.7) scale(1.5705,1)" font-size="14.15" fill="#000080"><tspan style="font-weight:normal">c</tspan></text>
<text transform="translate(1002.51,800.1) scale(1.5705,1)" font-size="14.15" fill="#000080"><tspan style="font-weight:normal">d</tspan></text>
<text transform="translate(1056.44,745.2) scale(1.5705,1)" font-size="14.15" fill="#000080"><tspan style="font-weight:normal">a</tspan></text>
<text transform="translate(1083.81,756.3) scale(1.5705,1)" font-size="14.15" fill="#000080"><tspan style="font-weight:normal">b</tspan></text>
<text transform="translate(1111.73,773.6) scale(1.5705,1)" font-size="14.15" fill="#000080"><tspan style="font-weight:normal">c</tspan></text>
<text transform="translate(1138.76,786.5) scale(1.5705,1)" font-size="14.15" fill="#000080"><tspan style="font-weight:normal">d</tspan></text>
<text transform="translate(1165.74,780.2) scale(1.5705,1)" font-size="14.15" fill="#000080"><tspan style="font-weight:normal">e</tspan></text>
<text transform="translate(1219.89,736.2) scale(1.5705,1)" font-size="14.15" fill="#000080"><tspan style="font-weight:normal">a</tspan></text>
<text transform="translate(1247.26,799.7) scale(1.5705,1)" font-size="14.15" fill="#000080"><tspan style="font-weight:normal">b</tspan></text>
<text transform="translate(1275.18,828) scale(1.5705,1)" font-size="14.15" fill="#000080"><tspan style="font-weight:normal">c</tspan></text>
<text transform="translate(1302.21,847.7) scale(1.5705,1)" font-size="14.15" fill="#000080"><tspan style="font-weight:normal">d</tspan></text>
<text transform="translate(1329.19,845) scale(1.5705,1)" font-size="14.15" fill="#000080"><tspan style="font-weight:normal">e</tspan></text>
<text transform="translate(855.25,639) scale(1.3634,1)" font-size="42.32" fill="#000080"><tspan style="font-weight:bold;">E</tspan></text>
<text transform="translate(792.7,997.29) rotate(-90) scale(0.6479,1)" font-size="33.04" fill="#000080" style="font-weight:bold;white-space:pre">Relative mRNA expression of</text>
<text transform="translate(792.7,693.35) rotate(-90) scale(0.6802,1)" font-size="33.04" fill="#000080" style="font-weight:bold;font-style:italic;white-space:pre">MHC II β</text>
</g>
<g id="pF">
<rect x="1656.3" y="753.3" width="26.7" height="171.2" fill="#000080"/>
<rect x="1683" y="677.2" width="26.7" height="247.3" fill="#D3D3D3"/>
<rect x="1709.7" y="637.3" width="26.7" height="287.2" fill="#0000FF"/>
<rect x="1736.4" y="632.2" width="26.7" height="292.3" fill="#5A5AF8"/>
<rect x="1763.1" y="612.2" width="26.7" height="312.3" fill="#55A2FF"/>
<rect x="1816.35" y="753.3" width="26.7" height="171.2" fill="#000080"/>
<rect x="1843.05" y="659.2" width="26.7" height="265.3" fill="#D3D3D3"/>
<rect x="1869.75" y="629.4" width="26.7" height="295.1" fill="#0000FF"/>
<rect x="1896.45" y="618.3" width="26.7" height="306.2" fill="#5A5AF8"/>
<rect x="1923.15" y="616.2" width="26.7" height="308.3" fill="#55A2FF"/>
<rect x="1976.4" y="753.2" width="26.7" height="171.3" fill="#000080"/>
<rect x="2003.1" y="640.1" width="26.7" height="284.4" fill="#D3D3D3"/>
<rect x="2029.8" y="627" width="26.7" height="297.5" fill="#0000FF"/>
<rect x="2056.5" y="614.3" width="26.7" height="310.2" fill="#5A5AF8"/>
<rect x="2083.2" y="619.2" width="26.7" height="305.3" fill="#55A2FF"/>
<rect x="1668.55" y="738.9" width="2.2" height="14.9" fill="#000080"/>
<rect x="1663.24" y="738.9" width="12.82" height="1.6" fill="#000080"/>
<rect x="1695.25" y="660.5" width="2.2" height="17.2" fill="#000080"/>
<rect x="1689.94" y="660.5" width="12.82" height="1.6" fill="#000080"/>
<rect x="1721.95" y="624.2" width="2.2" height="13.6" fill="#000080"/>
<rect x="1716.64" y="624.2" width="12.82" height="1.6" fill="#000080"/>
<rect x="1748.65" y="622.4" width="2.2" height="10.3" fill="#5A5AF8"/>
<rect x="1743.34" y="622.4" width="12.82" height="1.6" fill="#5A5AF8"/>
<rect x="1775.35" y="598.4" width="2.2" height="14.3" fill="#55A2FF"/>
<rect x="1770.04" y="598.4" width="12.82" height="1.6" fill="#55A2FF"/>
<rect x="1828.6" y="738.9" width="2.2" height="14.9" fill="#000080"/>
<rect x="1823.29" y="738.9" width="12.82" height="1.6" fill="#000080"/>
<rect x="1855.3" y="648.4" width="2.2" height="11.3" fill="#000080"/>
<rect x="1849.99" y="648.4" width="12.82" height="1.6" fill="#000080"/>
<rect x="1882" y="619.2" width="2.2" height="10.7" fill="#000080"/>
<rect x="1876.69" y="619.2" width="12.82" height="1.6" fill="#000080"/>
<rect x="1908.7" y="605.3" width="2.2" height="13.5" fill="#5A5AF8"/>
<rect x="1903.39" y="605.3" width="12.82" height="1.6" fill="#5A5AF8"/>
<rect x="1935.4" y="596.3" width="2.2" height="20.4" fill="#55A2FF"/>
<rect x="1930.09" y="596.3" width="12.82" height="1.6" fill="#55A2FF"/>
<rect x="1988.65" y="740.2" width="2.2" height="13.5" fill="#000080"/>
<rect x="1983.34" y="740.2" width="12.82" height="1.6" fill="#000080"/>
<rect x="2015.35" y="626" width="2.2" height="14.6" fill="#000080"/>
<rect x="2010.04" y="626" width="12.82" height="1.6" fill="#000080"/>
<rect x="2042.05" y="612.3" width="2.2" height="15.2" fill="#000080"/>
<rect x="2036.74" y="612.3" width="12.82" height="1.6" fill="#000080"/>
<rect x="2068.75" y="603.6" width="2.2" height="11.2" fill="#5A5AF8"/>
<rect x="2063.44" y="603.6" width="12.82" height="1.6" fill="#5A5AF8"/>
<rect x="2095.45" y="598.4" width="2.2" height="21.3" fill="#55A2FF"/>
<rect x="2090.14" y="598.4" width="12.82" height="1.6" fill="#55A2FF"/>
<rect x="1639.1" y="578" width="6" height="349.8" fill="#000080"/>
<rect x="1626.1" y="924.5" width="16" height="2.8" fill="#000080"/>
<rect x="1626.1" y="837.88" width="16" height="2.8" fill="#000080"/>
<rect x="1626.1" y="751.25" width="16" height="2.8" fill="#000080"/>
<rect x="1626.1" y="664.62" width="16" height="2.8" fill="#000080"/>
<rect x="1626.1" y="578" width="16" height="2.8" fill="#000080"/>
<rect x="1626.1" y="924" width="498.4" height="3.8" fill="#000080"/>
<rect x="1720.25" y="927.3" width="5.6" height="9.6" fill="#000080"/>
<rect x="1880.3" y="927.3" width="5.6" height="9.6" fill="#000080"/>
<rect x="2040.35" y="927.3" width="5.6" height="9.6" fill="#000080"/>
<text transform="translate(1576.81,933.32) scale(1.4065,1)" font-size="22.96" fill="#000080"><tspan style="font-weight:bold">0.0</tspan></text>
<text transform="translate(1576.32,846.7) scale(1.4065,1)" font-size="22.96" fill="#000080"><tspan style="font-weight:bold">0.5</tspan></text>
<text transform="translate(1576.81,760.07) scale(1.4065,1)" font-size="22.96" fill="#000080"><tspan style="font-weight:bold">1.0</tspan></text>
<text transform="translate(1576.32,673.33) scale(1.4065,1)" font-size="22.96" fill="#000080"><tspan style="font-weight:bold">1.5</tspan></text>
<text transform="translate(1576.81,586.82) scale(1.4065,1)" font-size="22.96" fill="#000080"><tspan style="font-weight:bold">2.0</tspan></text>
<text transform="translate(1686.29,958.71) scale(1.4977,1)" font-size="21.39" fill="#000080"><tspan style="font-weight:bold">5 dpi</tspan></text>
<text transform="translate(1836.97,958.71) scale(1.4977,1)" font-size="21.39" fill="#000080"><tspan style="font-weight:bold">10 dpi</tspan></text>
<text transform="translate(1997.02,958.71) scale(1.4977,1)" font-size="21.39" fill="#000080"><tspan style="font-weight:bold">15 dpi</tspan></text>
<text transform="translate(1663.54,731.8) scale(1.5705,1)" font-size="14.15" fill="#000080"><tspan style="font-weight:normal">e</tspan></text>
<text transform="translate(1690.46,651.4) scale(1.5705,1)" font-size="14.15" fill="#000080"><tspan style="font-weight:normal">d</tspan></text>
<text transform="translate(1717.33,617.7) scale(1.5705,1)" font-size="14.15" fill="#000080"><tspan style="font-weight:normal">c</tspan></text>
<text transform="translate(1743.31,618.1) scale(1.5705,1)" font-size="14.15" fill="#000080"><tspan style="font-weight:normal">b</tspan></text>
<text transform="translate(1769.84,593.5) scale(1.5705,1)" font-size="14.15" fill="#000080"><tspan style="font-weight:normal">a</tspan></text>
<text transform="translate(1823.81,734.2) scale(1.5705,1)" font-size="14.15" fill="#000080"><tspan style="font-weight:normal">d</tspan></text>
<text transform="translate(1850.68,645.9) scale(1.5705,1)" font-size="14.15" fill="#000080"><tspan style="font-weight:normal">c</tspan></text>
<text transform="translate(1876.66,612.6) scale(1.5705,1)" font-size="14.15" fill="#000080"><tspan style="font-weight:normal">b</tspan></text>
<text transform="translate(1897.47,603.7) scale(1.5705,1)" font-size="14.15" fill="#000080"><tspan style="font-weight:normal">ab</tspan></text>
<text transform="translate(1929.89,587.9) scale(1.5705,1)" font-size="14.15" fill="#000080"><tspan style="font-weight:normal">a</tspan></text>
<text transform="translate(1984.03,733.8) scale(1.5705,1)" font-size="14.15" fill="#000080"><tspan style="font-weight:normal">c</tspan></text>
<text transform="translate(2010.01,621.4) scale(1.5705,1)" font-size="14.15" fill="#000080"><tspan style="font-weight:normal">b</tspan></text>
<text transform="translate(2036.71,607.6) scale(1.5705,1)" font-size="14.15" fill="#000080"><tspan style="font-weight:normal">b</tspan></text>
<text transform="translate(2063.24,597.2) scale(1.5705,1)" font-size="14.15" fill="#000080"><tspan style="font-weight:normal">a</tspan></text>
<text transform="translate(2089.94,591.8) scale(1.5705,1)" font-size="14.15" fill="#000080"><tspan style="font-weight:normal">a</tspan></text>
<text transform="translate(1624.56,556.4) scale(1.4339,1)" font-size="41.16" fill="#000080"><tspan style="font-weight:bold;">F</tspan></text>
<text transform="translate(1556.2,942.31) rotate(-90) scale(0.6365,1)" font-size="36.38" fill="#000080" style="font-weight:bold;white-space:pre">Relative mRNA expression of</text>
<text transform="translate(1556.2,612.36) rotate(-90) scale(0.6297,1)" font-size="36.38" fill="#000080" style="font-weight:bold;font-style:italic;white-space:pre">IL-10</text>
</g>
<g id="pg">
<rect x="140" y="1335" width="28.3" height="173.5" fill="#000080"/>
<rect x="168.3" y="1381" width="28.3" height="127.5" fill="#D3D3D3"/>
<rect x="196.6" y="1404.1" width="28.3" height="104.4" fill="#0000FF"/>
<rect x="224.9" y="1410.1" width="28.3" height="98.4" fill="#5A5AF8"/>
<rect x="253.2" y="1421.2" width="28.3" height="87.3" fill="#55A2FF"/>
<rect x="310.1" y="1335" width="28.3" height="173.5" fill="#000080"/>
<rect x="338.4" y="1356.2" width="28.3" height="152.3" fill="#D3D3D3"/>
<rect x="366.7" y="1376.9" width="28.3" height="131.6" fill="#0000FF"/>
<rect x="395" y="1400" width="28.3" height="108.5" fill="#5A5AF8"/>
<rect x="423.3" y="1407.2" width="28.3" height="101.3" fill="#55A2FF"/>
<rect x="480.2" y="1335.2" width="28.3" height="173.3" fill="#000080"/>
<rect x="508.5" y="1386.2" width="28.3" height="122.3" fill="#D3D3D3"/>
<rect x="536.8" y="1400.1" width="28.3" height="108.4" fill="#0000FF"/>
<rect x="565.1" y="1407.2" width="28.3" height="101.3" fill="#5A5AF8"/>
<rect x="593.4" y="1417.1" width="28.3" height="91.4" fill="#55A2FF"/>
<rect x="153.05" y="1321" width="2.2" height="14.5" fill="#000080"/>
<rect x="147.36" y="1321" width="13.58" height="1.6" fill="#000080"/>
<rect x="181.35" y="1364.9" width="2.2" height="16.6" fill="#D3D3D3"/>
<rect x="175.66" y="1364.9" width="13.58" height="1.6" fill="#D3D3D3"/>
<rect x="209.65" y="1390.9" width="2.2" height="13.7" fill="#0000FF"/>
<rect x="203.96" y="1390.9" width="13.58" height="1.6" fill="#0000FF"/>
<rect x="237.95" y="1401.6" width="2.2" height="9" fill="#5A5AF8"/>
<rect x="232.26" y="1401.6" width="13.58" height="1.6" fill="#5A5AF8"/>
<rect x="266.25" y="1408.5" width="2.2" height="13.2" fill="#55A2FF"/>
<rect x="260.56" y="1408.5" width="13.58" height="1.6" fill="#55A2FF"/>
<rect x="323.15" y="1317.6" width="2.2" height="17.9" fill="#000080"/>
<rect x="317.46" y="1317.6" width="13.58" height="1.6" fill="#000080"/>
<rect x="351.45" y="1342.4" width="2.2" height="14.3" fill="#D3D3D3"/>
<rect x="345.76" y="1342.4" width="13.58" height="1.6" fill="#D3D3D3"/>
<rect x="379.75" y="1356.2" width="2.2" height="21.2" fill="#0000FF"/>
<rect x="374.06" y="1356.2" width="13.58" height="1.6" fill="#0000FF"/>
<rect x="408.05" y="1384.3" width="2.2" height="16.2" fill="#5A5AF8"/>
<rect x="402.36" y="1384.3" width="13.58" height="1.6" fill="#5A5AF8"/>
<rect x="436.35" y="1391.2" width="2.2" height="16.5" fill="#55A2FF"/>
<rect x="430.66" y="1391.2" width="13.58" height="1.6" fill="#55A2FF"/>
<rect x="493.25" y="1319.2" width="2.2" height="16.5" fill="#000080"/>
<rect x="487.56" y="1319.2" width="13.58" height="1.6" fill="#000080"/>
<rect x="521.55" y="1370" width="2.2" height="16.7" fill="#D3D3D3"/>
<rect x="515.86" y="1370" width="13.58" height="1.6" fill="#D3D3D3"/>
<rect x="549.85" y="1382.4" width="2.2" height="18.2" fill="#0000FF"/>
<rect x="544.16" y="1382.4" width="13.58" height="1.6" fill="#0000FF"/>
<rect x="578.15" y="1384.2" width="2.2" height="23.5" fill="#5A5AF8"/>
<rect x="572.46" y="1384.2" width="13.58" height="1.6" fill="#5A5AF8"/>
<rect x="606.45" y="1394.5" width="2.2" height="23.1" fill="#55A2FF"/>
<rect x="600.76" y="1394.5" width="13.58" height="1.6" fill="#55A2FF"/>
<rect x="123" y="1246" width="4.9" height="265.75" fill="#000080"/>
<rect x="108" y="1508" width="17.45" height="3.8" fill="#000080"/>
<rect x="108" y="1420.67" width="17.45" height="3.8" fill="#000080"/>
<rect x="108" y="1333.33" width="17.45" height="3.8" fill="#000080"/>
<rect x="108" y="1246" width="17.45" height="3.8" fill="#000080"/>
<rect x="108" y="1508" width="530.2" height="3.75" fill="#000080"/>
<rect x="207.8" y="1511.25" width="5.9" height="9.45" fill="#000080"/>
<rect x="377.9" y="1511.25" width="5.9" height="9.45" fill="#000080"/>
<rect x="548" y="1511.25" width="5.9" height="9.45" fill="#000080"/>
<text transform="translate(56.96,1516.83) scale(1.5516,1)" font-size="21.55" fill="#000080"><tspan style="font-weight:bold">0.0</tspan></text>
<text transform="translate(56.46,1429.5) scale(1.5516,1)" font-size="21.55" fill="#000080"><tspan style="font-weight:bold">0.5</tspan></text>
<text transform="translate(56.96,1342.17) scale(1.5516,1)" font-size="21.55" fill="#000080"><tspan style="font-weight:bold">1.0</tspan></text>
<text transform="translate(56.46,1254.73) scale(1.5516,1)" font-size="21.55" fill="#000080"><tspan style="font-weight:bold">1.5</tspan></text>
<text transform="translate(172.09,1540.4) scale(1.6846,1)" font-size="20.00" fill="#000080"><tspan style="font-weight:bold">5 dpi</tspan></text>
<text transform="translate(332.33,1540.4) scale(1.6846,1)" font-size="20.00" fill="#000080"><tspan style="font-weight:bold">10 dpi</tspan></text>
<text transform="translate(502.43,1540.4) scale(1.6846,1)" font-size="20.00" fill="#000080"><tspan style="font-weight:bold">15 dpi</tspan></text>
<text transform="translate(147.54,1314) scale(1.5705,1)" font-size="14.15" fill="#000080"><tspan style="font-weight:normal">a</tspan></text>
<text transform="translate(176.01,1358.9) scale(1.5705,1)" font-size="14.15" fill="#000080"><tspan style="font-weight:normal">b</tspan></text>
<text transform="translate(205.03,1386.3) scale(1.5705,1)" font-size="14.15" fill="#000080"><tspan style="font-weight:normal">c</tspan></text>
<text transform="translate(227.61,1393.7) scale(1.5705,1)" font-size="14.15" fill="#000080"><tspan style="font-weight:normal">cd</tspan></text>
<text transform="translate(261.46,1400.6) scale(1.5705,1)" font-size="14.15" fill="#000080"><tspan style="font-weight:normal">d</tspan></text>
<text transform="translate(317.64,1312.7) scale(1.5705,1)" font-size="14.15" fill="#000080"><tspan style="font-weight:normal">a</tspan></text>
<text transform="translate(346.11,1337) scale(1.5705,1)" font-size="14.15" fill="#000080"><tspan style="font-weight:normal">b</tspan></text>
<text transform="translate(375.13,1352.3) scale(1.5705,1)" font-size="14.15" fill="#000080"><tspan style="font-weight:normal">c</tspan></text>
<text transform="translate(403.26,1376.4) scale(1.5705,1)" font-size="14.15" fill="#000080"><tspan style="font-weight:normal">d</tspan></text>
<text transform="translate(431.56,1386.6) scale(1.5705,1)" font-size="14.15" fill="#000080"><tspan style="font-weight:normal">d</tspan></text>
<text transform="translate(487.74,1314.8) scale(1.5705,1)" font-size="14.15" fill="#000080"><tspan style="font-weight:normal">a</tspan></text>
<text transform="translate(516.21,1363.9) scale(1.5705,1)" font-size="14.15" fill="#000080"><tspan style="font-weight:normal">b</tspan></text>
<text transform="translate(544.51,1378.9) scale(1.5705,1)" font-size="14.15" fill="#000080"><tspan style="font-weight:normal">b</tspan></text>
<text transform="translate(567.08,1380.5) scale(1.5705,1)" font-size="14.15" fill="#000080"><tspan style="font-weight:normal">bc</tspan></text>
<text transform="translate(601.83,1391) scale(1.5705,1)" font-size="14.15" fill="#000080"><tspan style="font-weight:normal">c</tspan></text>
<text transform="translate(138.93,1223.83) scale(1.7177,1)" font-size="37.47" fill="#000080"><tspan style="font-weight:bold;">g</tspan></text>
<text transform="translate(36.9,1552.68) rotate(-90) scale(0.5685,1)" font-size="37.39" fill="#000080" style="font-weight:bold;white-space:pre">Relative mRNA expression of</text>
<text transform="translate(36.9,1250.93) rotate(-90) scale(0.5815,1)" font-size="37.39" fill="#000080" style="font-weight:bold;font-style:italic;white-space:pre">IL-1β</text>
</g>
<g id="pH">
<rect x="919" y="1357.2" width="27.9" height="157.2" fill="#000080"/>
<rect x="946.9" y="1393.4" width="27.9" height="121" fill="#D3D3D3"/>
<rect x="974.8" y="1403.3" width="27.9" height="111.1" fill="#0000FF"/>
<rect x="1002.7" y="1406.2" width="27.9" height="108.2" fill="#5A5AF8"/>
<rect x="1030.6" y="1419.1" width="27.9" height="95.3" fill="#55A2FF"/>
<rect x="1086.45" y="1357.2" width="27.9" height="157.2" fill="#000080"/>
<rect x="1114.35" y="1390.1" width="27.9" height="124.3" fill="#D3D3D3"/>
<rect x="1142.25" y="1393.4" width="27.9" height="121" fill="#0000FF"/>
<rect x="1170.15" y="1399.2" width="27.9" height="115.2" fill="#5A5AF8"/>
<rect x="1198.05" y="1407.4" width="27.9" height="107" fill="#55A2FF"/>
<rect x="1253.9" y="1357.1" width="27.9" height="157.3" fill="#000080"/>
<rect x="1281.8" y="1415.4" width="27.9" height="99" fill="#D3D3D3"/>
<rect x="1309.7" y="1420.2" width="27.9" height="94.2" fill="#0000FF"/>
<rect x="1337.6" y="1431.1" width="27.9" height="83.3" fill="#5A5AF8"/>
<rect x="1365.5" y="1445.2" width="27.9" height="69.2" fill="#55A2FF"/>
<rect x="931.85" y="1338.8" width="2.2" height="18.9" fill="#000080"/>
<rect x="926.25" y="1338.8" width="13.39" height="1.6" fill="#000080"/>
<rect x="959.75" y="1366" width="2.2" height="27.9" fill="#D3D3D3"/>
<rect x="954.15" y="1366" width="13.39" height="1.6" fill="#D3D3D3"/>
<rect x="987.65" y="1391.1" width="2.2" height="12.7" fill="#0000FF"/>
<rect x="982.05" y="1391.1" width="13.39" height="1.6" fill="#0000FF"/>
<rect x="1015.55" y="1391.1" width="2.2" height="15.6" fill="#5A5AF8"/>
<rect x="1009.95" y="1391.1" width="13.39" height="1.6" fill="#5A5AF8"/>
<rect x="1043.45" y="1407.4" width="2.2" height="12.2" fill="#55A2FF"/>
<rect x="1037.85" y="1407.4" width="13.39" height="1.6" fill="#55A2FF"/>
<rect x="1099.3" y="1343.4" width="2.2" height="14.3" fill="#000080"/>
<rect x="1093.7" y="1343.4" width="13.39" height="1.6" fill="#000080"/>
<rect x="1127.2" y="1370.6" width="2.2" height="20" fill="#D3D3D3"/>
<rect x="1121.6" y="1370.6" width="13.39" height="1.6" fill="#D3D3D3"/>
<rect x="1155.1" y="1378.3" width="2.2" height="15.6" fill="#0000FF"/>
<rect x="1149.5" y="1378.3" width="13.39" height="1.6" fill="#0000FF"/>
<rect x="1183" y="1385.2" width="2.2" height="14.5" fill="#5A5AF8"/>
<rect x="1177.4" y="1385.2" width="13.39" height="1.6" fill="#5A5AF8"/>
<rect x="1210.9" y="1393.1" width="2.2" height="14.8" fill="#55A2FF"/>
<rect x="1205.3" y="1393.1" width="13.39" height="1.6" fill="#55A2FF"/>
<rect x="1266.75" y="1342" width="2.2" height="15.6" fill="#000080"/>
<rect x="1261.15" y="1342" width="13.39" height="1.6" fill="#000080"/>
<rect x="1294.65" y="1392.9" width="2.2" height="23" fill="#D3D3D3"/>
<rect x="1289.05" y="1392.9" width="13.39" height="1.6" fill="#D3D3D3"/>
<rect x="1322.55" y="1407.1" width="2.2" height="13.6" fill="#0000FF"/>
<rect x="1316.95" y="1407.1" width="13.39" height="1.6" fill="#0000FF"/>
<rect x="1350.45" y="1415.1" width="2.2" height="16.5" fill="#5A5AF8"/>
<rect x="1344.85" y="1415.1" width="13.39" height="1.6" fill="#5A5AF8"/>
<rect x="1378.35" y="1438.8" width="2.2" height="6.9" fill="#55A2FF"/>
<rect x="1372.75" y="1438.8" width="13.39" height="1.6" fill="#55A2FF"/>
<rect x="903.1" y="1276.05" width="3.9" height="240.95" fill="#000080"/>
<rect x="888.2" y="1514.5" width="16.85" height="1.9" fill="#000080"/>
<rect x="888.2" y="1435.02" width="16.85" height="1.9" fill="#000080"/>
<rect x="888.2" y="1355.53" width="16.85" height="1.9" fill="#000080"/>
<rect x="888.2" y="1276.05" width="16.85" height="1.9" fill="#000080"/>
<rect x="888.2" y="1513.9" width="521.1" height="3.1" fill="#000080"/>
<rect x="986.75" y="1516.5" width="4" height="8.5" fill="#000080"/>
<rect x="1154.2" y="1516.5" width="4" height="8.5" fill="#000080"/>
<rect x="1321.65" y="1516.5" width="4" height="8.5" fill="#000080"/>
<text transform="translate(841.6,1521.49) scale(1.5836,1)" font-size="18.94" fill="#000080"><tspan style="font-weight:bold">0.0</tspan></text>
<text transform="translate(841.15,1442) scale(1.5836,1)" font-size="18.94" fill="#000080"><tspan style="font-weight:bold">0.5</tspan></text>
<text transform="translate(841.6,1362.52) scale(1.5836,1)" font-size="18.94" fill="#000080"><tspan style="font-weight:bold">1.0</tspan></text>
<text transform="translate(841.15,1282.94) scale(1.5836,1)" font-size="18.94" fill="#000080"><tspan style="font-weight:bold">1.5</tspan></text>
<text transform="translate(953.94,1544.08) scale(1.6685,1)" font-size="18.18" fill="#000080"><tspan style="font-weight:bold">5 dpi</tspan></text>
<text transform="translate(1112.52,1544.08) scale(1.6685,1)" font-size="18.18" fill="#000080"><tspan style="font-weight:bold">10 dpi</tspan></text>
<text transform="translate(1279.97,1544.08) scale(1.6685,1)" font-size="18.18" fill="#000080"><tspan style="font-weight:bold">15 dpi</tspan></text>
<text transform="translate(926.34,1327.8) scale(1.5705,1)" font-size="14.15" fill="#000080"><tspan style="font-weight:normal">a</tspan></text>
<text transform="translate(954.41,1356.9) scale(1.5705,1)" font-size="14.15" fill="#000080"><tspan style="font-weight:normal">b</tspan></text>
<text transform="translate(983.03,1383.2) scale(1.5705,1)" font-size="14.15" fill="#000080"><tspan style="font-weight:normal">c</tspan></text>
<text transform="translate(1010.93,1384.9) scale(1.5705,1)" font-size="14.15" fill="#000080"><tspan style="font-weight:normal">c</tspan></text>
<text transform="translate(1038.66,1401.6) scale(1.5705,1)" font-size="14.15" fill="#000080"><tspan style="font-weight:normal">d</tspan></text>
<text transform="translate(1093.79,1332.8) scale(1.5705,1)" font-size="14.15" fill="#000080"><tspan style="font-weight:normal">a</tspan></text>
<text transform="translate(1121.86,1363.2) scale(1.5705,1)" font-size="14.15" fill="#000080"><tspan style="font-weight:normal">b</tspan></text>
<text transform="translate(1150.48,1370.9) scale(1.5705,1)" font-size="14.15" fill="#000080"><tspan style="font-weight:normal">c</tspan></text>
<text transform="translate(1178.21,1377) scale(1.5705,1)" font-size="14.15" fill="#000080"><tspan style="font-weight:normal">d</tspan></text>
<text transform="translate(1205.89,1391.4) scale(1.5705,1)" font-size="14.15" fill="#000080"><tspan style="font-weight:normal">e</tspan></text>
<text transform="translate(1261.24,1339) scale(1.5705,1)" font-size="14.15" fill="#000080"><tspan style="font-weight:normal">a</tspan></text>
<text transform="translate(1289.31,1386.8) scale(1.5705,1)" font-size="14.15" fill="#000080"><tspan style="font-weight:normal">b</tspan></text>
<text transform="translate(1317.21,1402) scale(1.5705,1)" font-size="14.15" fill="#000080"><tspan style="font-weight:normal">b</tspan></text>
<text transform="translate(1345.83,1412.1) scale(1.5705,1)" font-size="14.15" fill="#000080"><tspan style="font-weight:normal">c</tspan></text>
<text transform="translate(1373.56,1434) scale(1.5705,1)" font-size="14.15" fill="#000080"><tspan style="font-weight:normal">d</tspan></text>
<text transform="translate(883,1246) scale(1.6262,1)" font-size="39.71" fill="#000080"><tspan style="font-weight:bold;">H</tspan></text>
<text transform="translate(822,1555.57) rotate(-90) scale(0.5677,1)" font-size="34.49" fill="#000080" style="font-weight:bold;white-space:pre">Relative mRNA expression of</text>
<text transform="translate(822,1271.2) rotate(-90) scale(0.5732,1)" font-size="34.49" fill="#000080" style="font-weight:bold;font-style:italic;white-space:pre">IL-8</text>
</g>
<g id="pI">
<rect x="1721.7" y="1357.3" width="28" height="158.2" fill="#000080"/>
<rect x="1749.7" y="1394.3" width="28" height="121.2" fill="#D3D3D3"/>
<rect x="1777.7" y="1416.3" width="28" height="99.2" fill="#0000FF"/>
<rect x="1805.7" y="1422.3" width="28" height="93.2" fill="#5A5AF8"/>
<rect x="1833.7" y="1429.2" width="28" height="86.3" fill="#55A2FF"/>
<rect x="1889.7" y="1357.3" width="28" height="158.2" fill="#000080"/>
<rect x="1917.7" y="1384.1" width="28" height="131.4" fill="#D3D3D3"/>
<rect x="1945.7" y="1389.2" width="28" height="126.3" fill="#0000FF"/>
<rect x="1973.7" y="1419.3" width="28" height="96.2" fill="#5A5AF8"/>
<rect x="2001.7" y="1429.2" width="28" height="86.3" fill="#55A2FF"/>
<rect x="2057.7" y="1357.2" width="28" height="158.3" fill="#000080"/>
<rect x="2085.7" y="1403.1" width="28" height="112.4" fill="#D3D3D3"/>
<rect x="2113.7" y="1414.1" width="28" height="101.4" fill="#0000FF"/>
<rect x="2141.7" y="1444.1" width="28" height="71.4" fill="#5A5AF8"/>
<rect x="2169.7" y="1449.3" width="28" height="66.2" fill="#55A2FF"/>
<rect x="1734.6" y="1342.5" width="2.2" height="15.3" fill="#000080"/>
<rect x="1728.98" y="1342.5" width="13.44" height="1.6" fill="#000080"/>
<rect x="1762.6" y="1376.2" width="2.2" height="18.6" fill="#D3D3D3"/>
<rect x="1756.98" y="1376.2" width="13.44" height="1.6" fill="#D3D3D3"/>
<rect x="1790.6" y="1401.2" width="2.2" height="15.6" fill="#0000FF"/>
<rect x="1784.98" y="1401.2" width="13.44" height="1.6" fill="#0000FF"/>
<rect x="1818.6" y="1403.2" width="2.2" height="19.6" fill="#5A5AF8"/>
<rect x="1812.98" y="1403.2" width="13.44" height="1.6" fill="#5A5AF8"/>
<rect x="1846.6" y="1408" width="2.2" height="21.7" fill="#55A2FF"/>
<rect x="1840.98" y="1408" width="13.44" height="1.6" fill="#55A2FF"/>
<rect x="1902.6" y="1344.5" width="2.2" height="13.3" fill="#000080"/>
<rect x="1896.98" y="1344.5" width="13.44" height="1.6" fill="#000080"/>
<rect x="1930.6" y="1366.9" width="2.2" height="17.7" fill="#D3D3D3"/>
<rect x="1924.98" y="1366.9" width="13.44" height="1.6" fill="#D3D3D3"/>
<rect x="1958.6" y="1377.5" width="2.2" height="12.2" fill="#0000FF"/>
<rect x="1952.98" y="1377.5" width="13.44" height="1.6" fill="#0000FF"/>
<rect x="1986.6" y="1404.7" width="2.2" height="15.1" fill="#5A5AF8"/>
<rect x="1980.98" y="1404.7" width="13.44" height="1.6" fill="#5A5AF8"/>
<rect x="2014.6" y="1414.2" width="2.2" height="15.5" fill="#55A2FF"/>
<rect x="2008.98" y="1414.2" width="13.44" height="1.6" fill="#55A2FF"/>
<rect x="2070.6" y="1345.5" width="2.2" height="12.2" fill="#000080"/>
<rect x="2064.98" y="1345.5" width="13.44" height="1.6" fill="#000080"/>
<rect x="2098.6" y="1383.9" width="2.2" height="19.7" fill="#D3D3D3"/>
<rect x="2092.98" y="1383.9" width="13.44" height="1.6" fill="#D3D3D3"/>
<rect x="2126.6" y="1399.6" width="2.2" height="15" fill="#0000FF"/>
<rect x="2120.98" y="1399.6" width="13.44" height="1.6" fill="#0000FF"/>
<rect x="2154.6" y="1426.6" width="2.2" height="18" fill="#5A5AF8"/>
<rect x="2148.98" y="1426.6" width="13.44" height="1.6" fill="#5A5AF8"/>
<rect x="2182.6" y="1434.3" width="2.2" height="15.5" fill="#55A2FF"/>
<rect x="2176.98" y="1434.3" width="13.44" height="1.6" fill="#55A2FF"/>
<rect x="1707.1" y="1277" width="3.7" height="240" fill="#000080"/>
<rect x="1692.1" y="1515" width="16.85" height="2" fill="#000080"/>
<rect x="1692.1" y="1435.67" width="16.85" height="2" fill="#000080"/>
<rect x="1692.1" y="1356.33" width="16.85" height="2" fill="#000080"/>
<rect x="1692.1" y="1277" width="16.85" height="2" fill="#000080"/>
<rect x="1692.1" y="1515" width="521.5" height="2" fill="#000080"/>
<rect x="1789.7" y="1516.5" width="4" height="9.4" fill="#000080"/>
<rect x="1957.7" y="1516.5" width="4" height="9.4" fill="#000080"/>
<rect x="2125.7" y="1516.5" width="4" height="9.4" fill="#000080"/>
<text transform="translate(1645.4,1521.82) scale(1.6426,1)" font-size="18.31" fill="#000080"><tspan style="font-weight:bold">0.0</tspan></text>
<text transform="translate(1644.95,1442.48) scale(1.6426,1)" font-size="18.31" fill="#000080"><tspan style="font-weight:bold">0.5</tspan></text>
<text transform="translate(1645.4,1363.15) scale(1.6426,1)" font-size="18.31" fill="#000080"><tspan style="font-weight:bold">1.0</tspan></text>
<text transform="translate(1644.95,1283.73) scale(1.6426,1)" font-size="18.31" fill="#000080"><tspan style="font-weight:bold">1.5</tspan></text>
<text transform="translate(1757.04,1544.78) scale(1.6611,1)" font-size="18.18" fill="#000080"><tspan style="font-weight:bold">5 dpi</tspan></text>
<text transform="translate(1916.21,1544.78) scale(1.6611,1)" font-size="18.18" fill="#000080"><tspan style="font-weight:bold">10 dpi</tspan></text>
<text transform="translate(2084.21,1544.78) scale(1.6611,1)" font-size="18.18" fill="#000080"><tspan style="font-weight:bold">15 dpi</tspan></text>
<text transform="translate(1729.09,1335.9) scale(1.5705,1)" font-size="14.15" fill="#000080"><tspan style="font-weight:normal">a</tspan></text>
<text transform="translate(1757.26,1372.6) scale(1.5705,1)" font-size="14.15" fill="#000080"><tspan style="font-weight:normal">b</tspan></text>
<text transform="translate(1785.98,1397.3) scale(1.5705,1)" font-size="14.15" fill="#000080"><tspan style="font-weight:normal">c</tspan></text>
<text transform="translate(1813.81,1399.7) scale(1.5705,1)" font-size="14.15" fill="#000080"><tspan style="font-weight:normal">d</tspan></text>
<text transform="translate(1841.81,1405) scale(1.5705,1)" font-size="14.15" fill="#000080"><tspan style="font-weight:normal">d</tspan></text>
<text transform="translate(1897.09,1339.2) scale(1.5705,1)" font-size="14.15" fill="#000080"><tspan style="font-weight:normal">a</tspan></text>
<text transform="translate(1925.26,1360.6) scale(1.5705,1)" font-size="14.15" fill="#000080"><tspan style="font-weight:normal">b</tspan></text>
<text transform="translate(1953.98,1372.6) scale(1.5705,1)" font-size="14.15" fill="#000080"><tspan style="font-weight:normal">c</tspan></text>
<text transform="translate(1981.81,1399.7) scale(1.5705,1)" font-size="14.15" fill="#000080"><tspan style="font-weight:normal">d</tspan></text>
<text transform="translate(2009.59,1405.2) scale(1.5705,1)" font-size="14.15" fill="#000080"><tspan style="font-weight:normal">e</tspan></text>
<text transform="translate(2065.09,1341.9) scale(1.5705,1)" font-size="14.15" fill="#000080"><tspan style="font-weight:normal">a</tspan></text>
<text transform="translate(2093.26,1376.9) scale(1.5705,1)" font-size="14.15" fill="#000080"><tspan style="font-weight:normal">b</tspan></text>
<text transform="translate(2121.98,1396.9) scale(1.5705,1)" font-size="14.15" fill="#000080"><tspan style="font-weight:normal">c</tspan></text>
<text transform="translate(2149.81,1420.8) scale(1.5705,1)" font-size="14.15" fill="#000080"><tspan style="font-weight:normal">d</tspan></text>
<text transform="translate(2177.81,1431.7) scale(1.5705,1)" font-size="14.15" fill="#000080"><tspan style="font-weight:normal">d</tspan></text>
<text transform="translate(1670.53,1245.2) scale(1.6891,1)" font-size="37.97" fill="#000080"><tspan style="font-weight:bold;">I</tspan></text>
<text transform="translate(1625.3,1563.78) rotate(-90) scale(0.5687,1)" font-size="34.49" fill="#000080" style="font-weight:bold;white-space:pre">Relative mRNA expression of</text>
<text transform="translate(1625.3,1284.65) rotate(-90) scale(0.5575,1)" font-size="34.49" fill="#000080" style="font-weight:bold;font-style:italic;white-space:pre">TNF-α</text>
</g>
<g id="pJ">
<rect x="141.1" y="1870.1" width="27.9" height="117.1" fill="#000080"/>
<rect x="169" y="1830.2" width="27.9" height="157" fill="#D3D3D3"/>
<rect x="196.9" y="1823" width="27.9" height="164.2" fill="#0000FF"/>
<rect x="224.8" y="1807.2" width="27.9" height="180" fill="#5A5AF8"/>
<rect x="252.7" y="1789.3" width="27.9" height="197.9" fill="#55A2FF"/>
<rect x="309.5" y="1870.1" width="27.9" height="117.1" fill="#000080"/>
<rect x="337.4" y="1822" width="27.9" height="165.2" fill="#D3D3D3"/>
<rect x="365.3" y="1819.2" width="27.9" height="168" fill="#0000FF"/>
<rect x="393.2" y="1794.2" width="27.9" height="193" fill="#5A5AF8"/>
<rect x="421.1" y="1779.2" width="27.9" height="208" fill="#55A2FF"/>
<rect x="477.9" y="1870.1" width="27.9" height="117.1" fill="#000080"/>
<rect x="505.8" y="1825.1" width="27.9" height="162.1" fill="#D3D3D3"/>
<rect x="533.7" y="1822.2" width="27.9" height="165" fill="#0000FF"/>
<rect x="561.6" y="1797.2" width="27.9" height="190" fill="#5A5AF8"/>
<rect x="589.5" y="1788.1" width="27.9" height="199.1" fill="#55A2FF"/>
<rect x="153.95" y="1864.1" width="2.2" height="6.5" fill="#000080"/>
<rect x="148.35" y="1864.1" width="13.39" height="1.6" fill="#000080"/>
<rect x="181.85" y="1820.5" width="2.2" height="10.2" fill="#D3D3D3"/>
<rect x="176.25" y="1820.5" width="13.39" height="1.6" fill="#D3D3D3"/>
<rect x="209.75" y="1818.4" width="2.2" height="5.1" fill="#0000FF"/>
<rect x="204.15" y="1818.4" width="13.39" height="1.6" fill="#0000FF"/>
<rect x="237.65" y="1800.3" width="2.2" height="7.4" fill="#5A5AF8"/>
<rect x="232.05" y="1800.3" width="13.39" height="1.6" fill="#5A5AF8"/>
<rect x="322.35" y="1864.1" width="2.2" height="6.5" fill="#000080"/>
<rect x="316.75" y="1864.1" width="13.39" height="1.6" fill="#000080"/>
<rect x="350.25" y="1812.6" width="2.2" height="9.9" fill="#D3D3D3"/>
<rect x="344.65" y="1812.6" width="13.39" height="1.6" fill="#D3D3D3"/>
<rect x="378.15" y="1813.4" width="2.2" height="6.3" fill="#0000FF"/>
<rect x="372.55" y="1813.4" width="13.39" height="1.6" fill="#0000FF"/>
<rect x="406.05" y="1787.5" width="2.2" height="7.2" fill="#5A5AF8"/>
<rect x="400.45" y="1787.5" width="13.39" height="1.6" fill="#5A5AF8"/>
<rect x="490.75" y="1864.2" width="2.2" height="6.4" fill="#000080"/>
<rect x="485.15" y="1864.2" width="13.39" height="1.6" fill="#000080"/>
<rect x="518.65" y="1814.6" width="2.2" height="11" fill="#D3D3D3"/>
<rect x="513.05" y="1814.6" width="13.39" height="1.6" fill="#D3D3D3"/>
<rect x="546.55" y="1817.1" width="2.2" height="5.6" fill="#0000FF"/>
<rect x="540.95" y="1817.1" width="13.39" height="1.6" fill="#0000FF"/>
<rect x="574.45" y="1790.6" width="2.2" height="7.1" fill="#5A5AF8"/>
<rect x="568.85" y="1790.6" width="13.39" height="1.6" fill="#5A5AF8"/>
<rect x="125.1" y="1749" width="3.7" height="240.8" fill="#000080"/>
<rect x="110.1" y="1986.85" width="16.85" height="2.8" fill="#000080"/>
<rect x="110.1" y="1927.39" width="16.85" height="2.8" fill="#000080"/>
<rect x="110.1" y="1867.92" width="16.85" height="2.8" fill="#000080"/>
<rect x="110.1" y="1808.46" width="16.85" height="2.8" fill="#000080"/>
<rect x="110.1" y="1749" width="16.85" height="2.8" fill="#000080"/>
<rect x="110.1" y="1986.7" width="524.4" height="3.1" fill="#000080"/>
<rect x="208.95" y="1989.3" width="3.8" height="9.6" fill="#000080"/>
<rect x="377.35" y="1989.3" width="3.8" height="9.6" fill="#000080"/>
<rect x="545.75" y="1989.3" width="3.8" height="9.6" fill="#000080"/>
<text transform="translate(63.39,1994.26) scale(1.6057,1)" font-size="18.87" fill="#000080"><tspan style="font-weight:bold">0.0</tspan></text>
<text transform="translate(62.93,1934.8) scale(1.6057,1)" font-size="18.87" fill="#000080"><tspan style="font-weight:bold">0.5</tspan></text>
<text transform="translate(63.39,1875.34) scale(1.6057,1)" font-size="18.87" fill="#000080"><tspan style="font-weight:bold">1.0</tspan></text>
<text transform="translate(62.93,1815.78) scale(1.6057,1)" font-size="18.87" fill="#000080"><tspan style="font-weight:bold">1.5</tspan></text>
<text transform="translate(63.39,1756.41) scale(1.6057,1)" font-size="18.87" fill="#000080"><tspan style="font-weight:bold">2.0</tspan></text>
<text transform="translate(176.19,2017.13) scale(1.6808,1)" font-size="17.97" fill="#000080"><tspan style="font-weight:bold">5 dpi</tspan></text>
<text transform="translate(335.76,2017.13) scale(1.6808,1)" font-size="17.97" fill="#000080"><tspan style="font-weight:bold">10 dpi</tspan></text>
<text transform="translate(504.16,2017.13) scale(1.6808,1)" font-size="17.97" fill="#000080"><tspan style="font-weight:bold">15 dpi</tspan></text>
<text transform="translate(149.16,1858.6) scale(1.5705,1)" font-size="14.15" fill="#000080"><tspan style="font-weight:normal">d</tspan></text>
<text transform="translate(177.23,1818.7) scale(1.5705,1)" font-size="14.15" fill="#000080"><tspan style="font-weight:normal">c</tspan></text>
<text transform="translate(205.13,1810.1) scale(1.5705,1)" font-size="14.15" fill="#000080"><tspan style="font-weight:normal">c</tspan></text>
<text transform="translate(232.31,1796.5) scale(1.5705,1)" font-size="14.15" fill="#000080"><tspan style="font-weight:normal">b</tspan></text>
<text transform="translate(260.04,1782.2) scale(1.5705,1)" font-size="14.15" fill="#000080"><tspan style="font-weight:normal">a</tspan></text>
<text transform="translate(317.56,1861.1) scale(1.5705,1)" font-size="14.15" fill="#000080"><tspan style="font-weight:normal">d</tspan></text>
<text transform="translate(345.63,1809.3) scale(1.5705,1)" font-size="14.15" fill="#000080"><tspan style="font-weight:normal">c</tspan></text>
<text transform="translate(373.53,1809.3) scale(1.5705,1)" font-size="14.15" fill="#000080"><tspan style="font-weight:normal">c</tspan></text>
<text transform="translate(400.71,1780.5) scale(1.5705,1)" font-size="14.15" fill="#000080"><tspan style="font-weight:normal">b</tspan></text>
<text transform="translate(428.44,1775.1) scale(1.5705,1)" font-size="14.15" fill="#000080"><tspan style="font-weight:normal">a</tspan></text>
<text transform="translate(485.96,1861.6) scale(1.5705,1)" font-size="14.15" fill="#000080"><tspan style="font-weight:normal">d</tspan></text>
<text transform="translate(513.31,1809.5) scale(1.5705,1)" font-size="14.15" fill="#000080"><tspan style="font-weight:normal">b</tspan></text>
<text transform="translate(541.21,1811.8) scale(1.5705,1)" font-size="14.15" fill="#000080"><tspan style="font-weight:normal">b</tspan></text>
<text transform="translate(568.94,1785.7) scale(1.5705,1)" font-size="14.15" fill="#000080"><tspan style="font-weight:normal">a</tspan></text>
<text transform="translate(596.84,1781.7) scale(1.5705,1)" font-size="14.15" fill="#000080"><tspan style="font-weight:normal">a</tspan></text>
<text transform="translate(108.79,1706.42) scale(1.5837,1)" font-size="38.29" fill="#000080"><tspan style="font-weight:bold;">J</tspan></text>
<text transform="translate(43.9,2035.17) rotate(-90) scale(0.5579,1)" font-size="35.07" fill="#000080" style="font-weight:bold;white-space:pre">Relative mRNA expression of</text>
<text transform="translate(43.9,1751.05) rotate(-90) scale(0.5514,1)" font-size="35.07" fill="#000080" style="font-weight:bold;font-style:italic;white-space:pre">TLR2</text>
</g>
<g id="pK">
<rect x="918.2" y="1831.2" width="27.5" height="158.3" fill="#000080"/>
<rect x="945.7" y="1868.2" width="27.5" height="121.3" fill="#D3D3D3"/>
<rect x="973.2" y="1882.2" width="27.5" height="107.3" fill="#0000FF"/>
<rect x="1000.7" y="1895" width="27.5" height="94.5" fill="#5A5AF8"/>
<rect x="1028.2" y="1906.4" width="27.5" height="83.1" fill="#55A2FF"/>
<rect x="1084.1" y="1831.2" width="27.5" height="158.3" fill="#000080"/>
<rect x="1111.6" y="1861.2" width="27.5" height="128.3" fill="#D3D3D3"/>
<rect x="1139.1" y="1879.2" width="27.5" height="110.3" fill="#0000FF"/>
<rect x="1166.6" y="1887.5" width="27.5" height="102" fill="#5A5AF8"/>
<rect x="1194.1" y="1896.5" width="27.5" height="93" fill="#55A2FF"/>
<rect x="1250" y="1831" width="27.5" height="158.5" fill="#000080"/>
<rect x="1277.5" y="1887.2" width="27.5" height="102.3" fill="#D3D3D3"/>
<rect x="1305" y="1907.1" width="27.5" height="82.4" fill="#0000FF"/>
<rect x="1332.5" y="1923.2" width="27.5" height="66.3" fill="#5A5AF8"/>
<rect x="1360" y="1941.2" width="27.5" height="48.3" fill="#55A2FF"/>
<rect x="930.85" y="1824.3" width="2.2" height="7.4" fill="#000080"/>
<rect x="925.35" y="1824.3" width="13.2" height="1.6" fill="#000080"/>
<rect x="958.35" y="1854.7" width="2.2" height="14" fill="#D3D3D3"/>
<rect x="952.85" y="1854.7" width="13.2" height="1.6" fill="#D3D3D3"/>
<rect x="985.85" y="1875.3" width="2.2" height="7.4" fill="#0000FF"/>
<rect x="980.35" y="1875.3" width="13.2" height="1.6" fill="#0000FF"/>
<rect x="1013.35" y="1886.3" width="2.2" height="9.2" fill="#5A5AF8"/>
<rect x="1007.85" y="1886.3" width="13.2" height="1.6" fill="#5A5AF8"/>
<rect x="1040.85" y="1888" width="2.2" height="18.9" fill="#55A2FF"/>
<rect x="1035.35" y="1888" width="13.2" height="1.6" fill="#55A2FF"/>
<rect x="1096.75" y="1824.3" width="2.2" height="7.4" fill="#000080"/>
<rect x="1091.25" y="1824.3" width="13.2" height="1.6" fill="#000080"/>
<rect x="1124.25" y="1848.2" width="2.2" height="13.5" fill="#D3D3D3"/>
<rect x="1118.75" y="1848.2" width="13.2" height="1.6" fill="#D3D3D3"/>
<rect x="1151.75" y="1872" width="2.2" height="7.7" fill="#0000FF"/>
<rect x="1146.25" y="1872" width="13.2" height="1.6" fill="#0000FF"/>
<rect x="1179.25" y="1878.4" width="2.2" height="9.6" fill="#5A5AF8"/>
<rect x="1173.75" y="1878.4" width="13.2" height="1.6" fill="#5A5AF8"/>
<rect x="1206.75" y="1876.8" width="2.2" height="20.2" fill="#55A2FF"/>
<rect x="1201.25" y="1876.8" width="13.2" height="1.6" fill="#55A2FF"/>
<rect x="1262.65" y="1816.2" width="2.2" height="15.3" fill="#000080"/>
<rect x="1257.15" y="1816.2" width="13.2" height="1.6" fill="#000080"/>
<rect x="1290.15" y="1873.6" width="2.2" height="14.1" fill="#D3D3D3"/>
<rect x="1284.65" y="1873.6" width="13.2" height="1.6" fill="#D3D3D3"/>
<rect x="1317.65" y="1900.4" width="2.2" height="7.2" fill="#0000FF"/>
<rect x="1312.15" y="1900.4" width="13.2" height="1.6" fill="#0000FF"/>
<rect x="1345.15" y="1916.8" width="2.2" height="6.9" fill="#5A5AF8"/>
<rect x="1339.65" y="1916.8" width="13.2" height="1.6" fill="#5A5AF8"/>
<rect x="1372.65" y="1926.1" width="2.2" height="15.6" fill="#55A2FF"/>
<rect x="1367.15" y="1926.1" width="13.2" height="1.6" fill="#55A2FF"/>
<rect x="902.1" y="1750" width="3.8" height="241" fill="#000080"/>
<rect x="888.2" y="1988.6" width="15.8" height="2.8" fill="#000080"/>
<rect x="888.2" y="1909.07" width="15.8" height="2.8" fill="#000080"/>
<rect x="888.2" y="1829.53" width="15.8" height="2.8" fill="#000080"/>
<rect x="888.2" y="1750" width="15.8" height="2.8" fill="#000080"/>
<rect x="888.2" y="1989" width="515.1" height="2" fill="#000080"/>
<rect x="985.05" y="1990.5" width="3.8" height="9.4" fill="#000080"/>
<rect x="1150.95" y="1990.5" width="3.8" height="9.4" fill="#000080"/>
<rect x="1316.85" y="1990.5" width="3.8" height="9.4" fill="#000080"/>
<text transform="translate(840.89,1995.96) scale(1.6178,1)" font-size="18.73" fill="#000080"><tspan style="font-weight:bold">0.0</tspan></text>
<text transform="translate(840.43,1916.43) scale(1.6178,1)" font-size="18.73" fill="#000080"><tspan style="font-weight:bold">0.5</tspan></text>
<text transform="translate(840.89,1836.9) scale(1.6178,1)" font-size="18.73" fill="#000080"><tspan style="font-weight:bold">1.0</tspan></text>
<text transform="translate(840.43,1757.27) scale(1.6178,1)" font-size="18.73" fill="#000080"><tspan style="font-weight:bold">1.5</tspan></text>
<text transform="translate(952.24,2018.88) scale(1.6635,1)" font-size="18.18" fill="#000080"><tspan style="font-weight:bold">5 dpi</tspan></text>
<text transform="translate(1109.3,2018.88) scale(1.6635,1)" font-size="18.18" fill="#000080"><tspan style="font-weight:bold">10 dpi</tspan></text>
<text transform="translate(1275.2,2018.88) scale(1.6635,1)" font-size="18.18" fill="#000080"><tspan style="font-weight:bold">15 dpi</tspan></text>
<text transform="translate(925.34,1819.7) scale(1.5705,1)" font-size="14.15" fill="#000080"><tspan style="font-weight:normal">a</tspan></text>
<text transform="translate(953.01,1848.8) scale(1.5705,1)" font-size="14.15" fill="#000080"><tspan style="font-weight:normal">b</tspan></text>
<text transform="translate(980.51,1864.9) scale(1.5705,1)" font-size="14.15" fill="#000080"><tspan style="font-weight:normal">b</tspan></text>
<text transform="translate(1008.73,1883.5) scale(1.5705,1)" font-size="14.15" fill="#000080"><tspan style="font-weight:normal">c</tspan></text>
<text transform="translate(1036.06,1878.9) scale(1.5705,1)" font-size="14.15" fill="#000080"><tspan style="font-weight:normal">d</tspan></text>
<text transform="translate(1091.24,1818.9) scale(1.5705,1)" font-size="14.15" fill="#000080"><tspan style="font-weight:normal">a</tspan></text>
<text transform="translate(1119.63,1844.9) scale(1.5705,1)" font-size="14.15" fill="#000080"><tspan style="font-weight:normal">c</tspan></text>
<text transform="translate(1146.41,1867.7) scale(1.5705,1)" font-size="14.15" fill="#000080"><tspan style="font-weight:normal">b</tspan></text>
<text transform="translate(1174.63,1872.3) scale(1.5705,1)" font-size="14.15" fill="#000080"><tspan style="font-weight:normal">c</tspan></text>
<text transform="translate(1201.96,1872.3) scale(1.5705,1)" font-size="14.15" fill="#000080"><tspan style="font-weight:normal">d</tspan></text>
<text transform="translate(1257.14,1810.8) scale(1.5705,1)" font-size="14.15" fill="#000080"><tspan style="font-weight:normal">a</tspan></text>
<text transform="translate(1284.81,1868.8) scale(1.5705,1)" font-size="14.15" fill="#000080"><tspan style="font-weight:normal">b</tspan></text>
<text transform="translate(1313.03,1891.5) scale(1.5705,1)" font-size="14.15" fill="#000080"><tspan style="font-weight:normal">c</tspan></text>
<text transform="translate(1340.36,1911.7) scale(1.5705,1)" font-size="14.15" fill="#000080"><tspan style="font-weight:normal">d</tspan></text>
<text transform="translate(1367.64,1919.8) scale(1.5705,1)" font-size="14.15" fill="#000080"><tspan style="font-weight:normal">e</tspan></text>
<text transform="translate(883.94,1708) scale(1.5015,1)" font-size="40.58" fill="#000080"><tspan style="font-weight:bold;">K</tspan></text>
<text transform="translate(822,2050.08) rotate(-90) scale(0.5689,1)" font-size="34.49" fill="#000080" style="font-weight:bold;white-space:pre">Relative mRNA expression of</text>
<text transform="translate(822,1770.3) rotate(-90) scale(0.5806,1)" font-size="34.49" fill="#000080" style="font-weight:bold;font-style:italic;white-space:pre">MHC II β</text>
</g>
<g id="pL">
<rect x="1716.1" y="1826.1" width="27.65" height="157.5" fill="#000080"/>
<rect x="1743.75" y="1790.9" width="27.65" height="192.7" fill="#D3D3D3"/>
<rect x="1771.4" y="1778.1" width="27.65" height="205.5" fill="#0000FF"/>
<rect x="1799.05" y="1748" width="27.65" height="235.6" fill="#5A5AF8"/>
<rect x="1826.7" y="1744.9" width="27.65" height="238.7" fill="#55A2FF"/>
<rect x="1882" y="1826.1" width="27.65" height="157.5" fill="#000080"/>
<rect x="1909.65" y="1776.9" width="27.65" height="206.7" fill="#D3D3D3"/>
<rect x="1937.3" y="1770.2" width="27.65" height="213.4" fill="#0000FF"/>
<rect x="1964.95" y="1746.2" width="27.65" height="237.4" fill="#5A5AF8"/>
<rect x="1992.6" y="1739.1" width="27.65" height="244.5" fill="#55A2FF"/>
<rect x="2047.9" y="1826" width="27.65" height="157.6" fill="#000080"/>
<rect x="2075.55" y="1775.1" width="27.65" height="208.5" fill="#D3D3D3"/>
<rect x="2103.2" y="1771.2" width="27.65" height="212.4" fill="#0000FF"/>
<rect x="2130.85" y="1743.3" width="27.65" height="240.3" fill="#5A5AF8"/>
<rect x="2158.5" y="1745.2" width="27.65" height="238.4" fill="#55A2FF"/>
<rect x="1728.83" y="1812.9" width="2.2" height="13.7" fill="#000080"/>
<rect x="1723.29" y="1812.9" width="13.27" height="1.6" fill="#000080"/>
<rect x="1756.48" y="1776.1" width="2.2" height="15.3" fill="#000080"/>
<rect x="1750.94" y="1776.1" width="13.27" height="1.6" fill="#000080"/>
<rect x="1784.12" y="1766.9" width="2.2" height="11.7" fill="#000080"/>
<rect x="1778.59" y="1766.9" width="13.27" height="1.6" fill="#000080"/>
<rect x="1811.78" y="1739.8" width="2.2" height="8.7" fill="#5A5AF8"/>
<rect x="1806.24" y="1739.8" width="13.27" height="1.6" fill="#5A5AF8"/>
<rect x="1839.42" y="1732.1" width="2.2" height="13.3" fill="#55A2FF"/>
<rect x="1833.89" y="1732.1" width="13.27" height="1.6" fill="#55A2FF"/>
<rect x="1894.73" y="1812.9" width="2.2" height="13.7" fill="#000080"/>
<rect x="1889.19" y="1812.9" width="13.27" height="1.6" fill="#000080"/>
<rect x="1922.38" y="1766.9" width="2.2" height="10.5" fill="#000080"/>
<rect x="1916.84" y="1766.9" width="13.27" height="1.6" fill="#000080"/>
<rect x="1950.03" y="1760.5" width="2.2" height="10.2" fill="#000080"/>
<rect x="1944.49" y="1760.5" width="13.27" height="1.6" fill="#000080"/>
<rect x="1977.68" y="1735" width="2.2" height="11.7" fill="#5A5AF8"/>
<rect x="1972.14" y="1735" width="13.27" height="1.6" fill="#5A5AF8"/>
<rect x="2005.33" y="1720.7" width="2.2" height="18.9" fill="#55A2FF"/>
<rect x="1999.79" y="1720.7" width="13.27" height="1.6" fill="#55A2FF"/>
<rect x="2060.62" y="1814.4" width="2.2" height="12.1" fill="#000080"/>
<rect x="2055.09" y="1814.4" width="13.27" height="1.6" fill="#000080"/>
<rect x="2088.27" y="1762.2" width="2.2" height="13.4" fill="#000080"/>
<rect x="2082.74" y="1762.2" width="13.27" height="1.6" fill="#000080"/>
<rect x="2115.92" y="1757.5" width="2.2" height="14.2" fill="#000080"/>
<rect x="2110.39" y="1757.5" width="13.27" height="1.6" fill="#000080"/>
<rect x="2143.57" y="1733.3" width="2.2" height="10.5" fill="#5A5AF8"/>
<rect x="2138.04" y="1733.3" width="13.27" height="1.6" fill="#5A5AF8"/>
<rect x="2171.22" y="1725.7" width="2.2" height="20" fill="#55A2FF"/>
<rect x="2165.69" y="1725.7" width="13.27" height="1.6" fill="#55A2FF"/>
<rect x="1699.1" y="1665" width="6" height="321" fill="#000080"/>
<rect x="1685.1" y="1982.65" width="17" height="3.8" fill="#000080"/>
<rect x="1685.1" y="1903.24" width="17" height="3.8" fill="#000080"/>
<rect x="1685.1" y="1823.82" width="17" height="3.8" fill="#000080"/>
<rect x="1685.1" y="1744.41" width="17" height="3.8" fill="#000080"/>
<rect x="1685.1" y="1665" width="17" height="3.8" fill="#000080"/>
<rect x="1685.1" y="1983.1" width="516.5" height="2.9" fill="#000080"/>
<rect x="1782.32" y="1985.5" width="5.8" height="9.4" fill="#000080"/>
<rect x="1948.22" y="1985.5" width="5.8" height="9.4" fill="#000080"/>
<rect x="2114.12" y="1985.5" width="5.8" height="9.4" fill="#000080"/>
<text transform="translate(1634.57,1991.39) scale(1.5685,1)" font-size="21.27" fill="#000080"><tspan style="font-weight:bold">0.0</tspan></text>
<text transform="translate(1634.07,1911.97) scale(1.5685,1)" font-size="21.27" fill="#000080"><tspan style="font-weight:bold">0.5</tspan></text>
<text transform="translate(1634.57,1832.56) scale(1.5685,1)" font-size="21.27" fill="#000080"><tspan style="font-weight:bold">1.0</tspan></text>
<text transform="translate(1634.07,1753.04) scale(1.5685,1)" font-size="21.27" fill="#000080"><tspan style="font-weight:bold">1.5</tspan></text>
<text transform="translate(1634.57,1673.74) scale(1.5685,1)" font-size="21.27" fill="#000080"><tspan style="font-weight:bold">2.0</tspan></text>
<text transform="translate(1747.03,2014.41) scale(1.7102,1)" font-size="19.47" fill="#000080"><tspan style="font-weight:bold">5 dpi</tspan></text>
<text transform="translate(1903.19,2014.41) scale(1.7102,1)" font-size="19.47" fill="#000080"><tspan style="font-weight:bold">10 dpi</tspan></text>
<text transform="translate(2069.09,2014.41) scale(1.7102,1)" font-size="19.47" fill="#000080"><tspan style="font-weight:bold">15 dpi</tspan></text>
<text transform="translate(1723.81,1806.5) scale(1.5705,1)" font-size="14.15" fill="#000080"><tspan style="font-weight:normal">e</tspan></text>
<text transform="translate(1751.69,1773.2) scale(1.5705,1)" font-size="14.15" fill="#000080"><tspan style="font-weight:normal">d</tspan></text>
<text transform="translate(1779.5,1762.5) scale(1.5705,1)" font-size="14.15" fill="#000080"><tspan style="font-weight:normal">c</tspan></text>
<text transform="translate(1806.43,1736.5) scale(1.5705,1)" font-size="14.15" fill="#000080"><tspan style="font-weight:normal">b</tspan></text>
<text transform="translate(1833.91,1726.8) scale(1.5705,1)" font-size="14.15" fill="#000080"><tspan style="font-weight:normal">a</tspan></text>
<text transform="translate(1889.94,1806) scale(1.5705,1)" font-size="14.15" fill="#000080"><tspan style="font-weight:normal">d</tspan></text>
<text transform="translate(1917.75,1762.5) scale(1.5705,1)" font-size="14.15" fill="#000080"><tspan style="font-weight:normal">c</tspan></text>
<text transform="translate(1945.4,1758.4) scale(1.5705,1)" font-size="14.15" fill="#000080"><tspan style="font-weight:normal">c</tspan></text>
<text transform="translate(1972.33,1730.4) scale(1.5705,1)" font-size="14.15" fill="#000080"><tspan style="font-weight:normal">b</tspan></text>
<text transform="translate(1999.81,1714.5) scale(1.5705,1)" font-size="14.15" fill="#000080"><tspan style="font-weight:normal">a</tspan></text>
<text transform="translate(2056,1806) scale(1.5705,1)" font-size="14.15" fill="#000080"><tspan style="font-weight:normal">c</tspan></text>
<text transform="translate(2082.93,1755) scale(1.5705,1)" font-size="14.15" fill="#000080"><tspan style="font-weight:normal">b</tspan></text>
<text transform="translate(2110.58,1746.8) scale(1.5705,1)" font-size="14.15" fill="#000080"><tspan style="font-weight:normal">b</tspan></text>
<text transform="translate(2138.06,1727.9) scale(1.5705,1)" font-size="14.15" fill="#000080"><tspan style="font-weight:normal">a</tspan></text>
<text transform="translate(2165.71,1719.4) scale(1.5705,1)" font-size="14.15" fill="#000080"><tspan style="font-weight:normal">a</tspan></text>
<text transform="translate(1712.77,1648) scale(1.5656,1)" font-size="39.57" fill="#000080"><tspan style="font-weight:bold;">L</tspan></text>
<text transform="translate(1613,1999.18) rotate(-90) scale(0.5665,1)" font-size="37.54" fill="#000080" style="font-weight:bold;white-space:pre">Relative mRNA expression of</text>
<text transform="translate(1613,1697.32) rotate(-90) scale(0.5571,1)" font-size="37.54" fill="#000080" style="font-weight:bold;font-style:italic;white-space:pre">IL-10</text>
</g>
<text transform="translate(794.82,35.93) scale(1.4889,1)" font-size="36.60" fill="#000080"><tspan style="font-weight:bold;">Gills tissues</tspan></text>
<text transform="translate(707.72,1172.66) scale(1.6503,1)" font-size="34.01" fill="#000000"><tspan style="font-weight:bold;">Skin tissues</tspan></text>
<rect x="212.1" y="1030" width="58.8" height="13.8" fill="#000080"/>
<rect x="460.2" y="1027.9" width="58.7" height="14" fill="#D3D3D3"/>
<rect x="829" y="1026" width="59" height="13.7" fill="#0000FF"/>
<rect x="1232" y="1028" width="58.8" height="13.6" fill="#5A5AF8"/>
<rect x="1623" y="1034" width="58.8" height="12.7" fill="#55A2FF"/>
<text transform="translate(303.17,1045.43) scale(1.4191,1)" font-size="26.94" fill="#0000C0"><tspan style="font-weight:bold;">Control</tspan></text>
<text transform="translate(551.54,1046.13) scale(1.4361,1)" font-size="26.90" fill="#0000C0"><tspan style="font-weight:bold;">SS-extract</tspan></text>
<text transform="translate(742.72,1034.41) scale(1.5604,1)" font-size="18.73" fill="#0000C0"><tspan style="font-weight:bold;">50</tspan></text>
<text transform="translate(920.84,1044.54) scale(1.4773,1)" font-size="26.20" fill="#0000C0"><tspan style="font-weight:bold;">SS-extractt</tspan></text>
<text transform="translate(1125.16,1032.9) scale(1.4640,1)" font-size="19.86" fill="#0000C0"><tspan style="font-weight:bold;">100</tspan></text>
<text transform="translate(1323.84,1046.04) scale(1.4575,1)" font-size="26.48" fill="#0000C0"><tspan style="font-weight:bold;">SS-extract</tspan></text>
<text transform="translate(1515.27,1034.7) scale(1.4647,1)" font-size="19.72" fill="#0000C0"><tspan style="font-weight:bold;">150</tspan></text>
<text transform="translate(1714.94,1051.93) scale(1.4331,1)" font-size="26.90" fill="#0000C0"><tspan style="font-weight:bold;">SS-extract</tspan></text>
<text transform="translate(1905.99,1040.5) scale(1.4608,1)" font-size="19.72" fill="#0000C0"><tspan style="font-weight:bold;">200</tspan></text>
<rect x="221.2" y="2080.3" width="60.8" height="11.7" fill="#000080"/>
<rect x="478" y="2077.9" width="61" height="12" fill="#D3D3D3"/>
<rect x="860" y="2076.3" width="60.8" height="12.7" fill="#0000FF"/>
<rect x="1277.6" y="2077.8" width="61.1" height="11.9" fill="#5A5AF8"/>
<rect x="1681.7" y="2083" width="60.6" height="12.4" fill="#55A2FF"/>
<text transform="translate(315.41,2093.76) scale(1.6571,1)" font-size="23.95" fill="#0000C0"><tspan style="font-weight:bold;">Control</tspan></text>
<text transform="translate(572.8,2094.95) scale(1.6021,1)" font-size="24.93" fill="#0000C0"><tspan style="font-weight:bold;">SS-extract</tspan></text>
<text transform="translate(770.8,2083.91) scale(1.6085,1)" font-size="18.59" fill="#0000C0"><tspan style="font-weight:bold;">50</tspan></text>
<text transform="translate(954.7,2092.66) scale(1.6746,1)" font-size="23.94" fill="#0000C0"><tspan style="font-weight:bold;">SS-extractt</tspan></text>
<text transform="translate(1165.77,2082.91) scale(1.5829,1)" font-size="19.30" fill="#0000C0"><tspan style="font-weight:bold;">100</tspan></text>
<text transform="translate(1372.8,2094.56) scale(1.6374,1)" font-size="24.37" fill="#0000C0"><tspan style="font-weight:bold;">SS-extract</tspan></text>
<text transform="translate(1569.89,2083.91) scale(1.6257,1)" font-size="18.59" fill="#0000C0"><tspan style="font-weight:bold;">150</tspan></text>
<text transform="translate(1777,2099.95) scale(1.6322,1)" font-size="24.51" fill="#0000C0"><tspan style="font-weight:bold;">SS-extract</tspan></text>
<text transform="translate(1975.15,2088.91) scale(1.6170,1)" font-size="18.59" fill="#0000C0"><tspan style="font-weight:bold;">200</tspan></text>
</svg></body></html>
